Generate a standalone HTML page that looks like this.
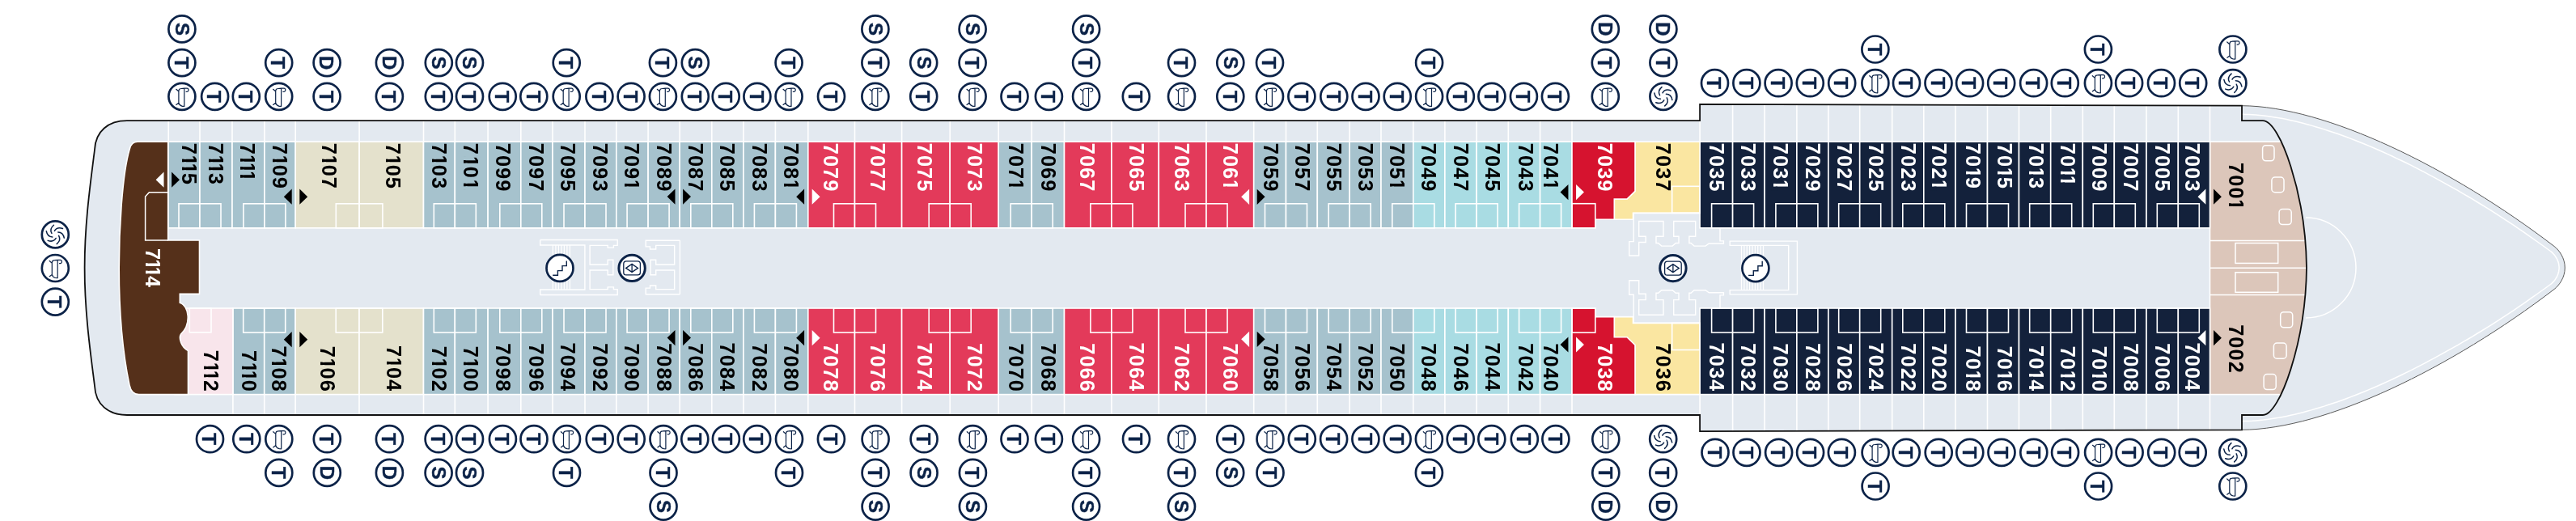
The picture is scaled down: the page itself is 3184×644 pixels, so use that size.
<!DOCTYPE html><html><head><meta charset="utf-8"><title>Deck 7</title>
<style>html,body{margin:0;padding:0;background:#fff;overflow:hidden}svg{display:block;will-change:transform}text{font-family:"Liberation Sans",Arial,sans-serif;font-weight:700}</style></head><body>
<svg width="3184" height="644" viewBox="0 0 3184 644">
<defs><clipPath id="hc"><path d="M157,149.2 H2101.1 V128.8 L2771,130.7 V149.2 H2797 C2818,149.2 2850,240 2851,331 C2850,422 2818,513.0 2797,513.0 H2771 V531.3 L2101.1,533.2 V513.0 H157 C134,513.0 118,500 117,477 C112,437 104.6,387 104.6,331 C104.6,275 112,225 117,185 C118,162 134,149.2 157,149.2 Z"/></clipPath></defs>
<rect width="3184" height="644" fill="#fff"/>
<path d="M2771,130.7 C2874.6,131.2 3029.7,207.1 3157.1,304.5 C3163.4,309.4 3170.3,319.1 3170.3,331 C3170.3,342.9 3163.4,352.6 3157.1,357.5 C3029.7,454.9 2874.6,530.8 2771,531.3 Z" fill="#e3e9f0" stroke="#5a5a5a" stroke-width="1"/>
<path d="M2770.8,141.3 L2775.2,141.4 L2779.5,141.5 L2783.9,141.7 L2788.4,142.1 L2792.9,142.5 L2797.5,142.9 L2802.2,143.5 L2806.9,144.2 L2811.6,144.9 L2816.5,145.7 L2821.3,146.6 L2826.3,147.6 L2831.3,148.7 L2836.3,149.8 L2841.4,151.1 L2846.5,152.3 L2851.7,153.7 L2856.9,155.1 L2862.2,156.7 L2867.5,158.3 L2872.8,159.9 L2878.2,161.7 L2883.6,163.5 L2889.1,165.3 L2894.6,167.3 L2900.1,169.3 L2905.6,171.4 L2911.2,173.5 L2916.8,175.8 L2922.5,178.0 L2928.1,180.4 L2933.8,182.8 L2939.5,185.3 L2945.2,187.8 L2950.9,190.4 L2956.7,193.0 L2962.4,195.8 L2968.2,198.5 L2974.0,201.3 L2979.8,204.2 L2985.6,207.2 L2991.4,210.2 L2997.2,213.2 L3003.1,216.3 L3008.9,219.4 L3014.7,222.6 L3020.6,225.8 L3026.4,229.1 L3032.3,232.3 L3038.2,235.7 L3044.0,239.1 L3049.9,242.5 L3055.7,245.9 L3061.5,249.5 L3067.3,253.0 L3073.2,256.6 L3078.9,260.2 L3084.7,263.9 L3090.5,267.6 L3096.2,271.3 L3102.0,275.1 L3107.7,278.9 L3113.4,282.8 L3119.0,286.7 L3124.6,290.6 L3130.3,294.6 L3135.8,298.5 L3141.4,302.5 L3147.0,306.5 L3152.5,310.5 L3152.9,310.8 L3153.4,311.2 L3153.9,311.6 L3154.4,312.1 L3154.9,312.6 L3155.4,313.1 L3155.9,313.6 L3156.4,314.2 L3156.9,314.7 L3157.4,315.3 L3157.9,316.0 L3158.4,316.6 L3158.8,317.3 L3159.2,318.0 L3159.7,318.7 L3160.1,319.4 L3160.5,320.1 L3160.8,320.9 L3161.2,321.7 L3161.5,322.5 L3161.8,323.3 L3162.0,324.1 L3162.3,324.9 L3162.5,325.7 L3162.7,326.6 L3162.8,327.4 L3162.9,328.3 L3163.0,329.2 L3163.1,330.1 L3163.1,331.9 L3163.0,332.8 L3162.9,333.7 L3162.8,334.6 L3162.7,335.4 L3162.5,336.3 L3162.3,337.1 L3162.0,337.9 L3161.8,338.7 L3161.5,339.5 L3161.2,340.3 L3160.8,341.1 L3160.5,341.9 L3160.1,342.6 L3159.7,343.3 L3159.2,344.0 L3158.8,344.7 L3158.4,345.4 L3157.9,346.0 L3157.4,346.7 L3156.9,347.3 L3156.4,347.8 L3155.9,348.4 L3155.4,348.9 L3154.9,349.4 L3154.4,349.9 L3153.9,350.4 L3153.4,350.8 L3152.9,351.2 L3152.5,351.5 L3147.0,355.5 L3141.4,359.5 L3135.8,363.5 L3130.3,367.4 L3124.6,371.4 L3119.0,375.3 L3113.4,379.2 L3107.7,383.1 L3102.0,386.9 L3096.2,390.7 L3090.5,394.4 L3084.7,398.1 L3078.9,401.8 L3073.2,405.4 L3067.3,409.0 L3061.5,412.5 L3055.7,416.1 L3049.9,419.5 L3044.0,422.9 L3038.2,426.3 L3032.3,429.7 L3026.4,432.9 L3020.6,436.2 L3014.7,439.4 L3008.9,442.6 L3003.1,445.7 L2997.2,448.8 L2991.4,451.8 L2985.6,454.8 L2979.8,457.8 L2974.0,460.7 L2968.2,463.5 L2962.4,466.2 L2956.7,469.0 L2950.9,471.6 L2945.2,474.2 L2939.5,476.7 L2933.8,479.2 L2928.1,481.6 L2922.5,484.0 L2916.8,486.2 L2911.2,488.5 L2905.6,490.6 L2900.1,492.7 L2894.6,494.7 L2889.1,496.7 L2883.6,498.5 L2878.2,500.3 L2872.8,502.1 L2867.5,503.7 L2862.2,505.3 L2856.9,506.9 L2851.7,508.3 L2846.5,509.7 L2841.4,510.9 L2836.3,512.2 L2831.3,513.3 L2826.3,514.4 L2821.3,515.4 L2816.5,516.3 L2811.6,517.1 L2806.9,517.8 L2802.2,518.5 L2797.5,519.1 L2792.9,519.5 L2788.4,519.9 L2783.9,520.3 L2779.5,520.5 L2775.2,520.6 L2770.8,520.7" fill="none" stroke="#fff" stroke-width="1.5"/>
<path d="M2850,269 A62,62 0 0 1 2850,393" fill="none" stroke="#fff" stroke-width="1.5"/>
<path d="M157,149.2 H2101.1 V128.8 L2771,130.7 V149.2 H2797 C2818,149.2 2850,240 2851,331 C2850,422 2818,513.0 2797,513.0 H2771 V531.3 L2101.1,533.2 V513.0 H157 C134,513.0 118,500 117,477 C112,437 104.6,387 104.6,331 C104.6,275 112,225 117,185 C118,162 134,149.2 157,149.2 Z" fill="#e3e9f0"/>
<g clip-path="url(#hc)">
<path d="M208.2,147.2 V175.2 M247,147.2 V175.2 M287,147.2 V175.2 M326.9,147.2 V175.2 M365.2,147.2 V175.2 M444.1,147.2 V175.2 M523.5,147.2 V175.2 M562.3,147.2 V175.2 M603.1,147.2 V175.2 M643.8,147.2 V175.2 M683,147.2 V175.2 M723,147.2 V175.2 M761.8,147.2 V175.2 M801.1,147.2 V175.2 M840.2,147.2 V175.2 M879.8,147.2 V175.2 M918.9,147.2 V175.2 M958.4,147.2 V175.2 M998.8,147.2 V175.2 M1056.5,147.2 V175.2 M1114.6,147.2 V175.2 M1174.2,147.2 V175.2 M1234.2,147.2 V175.2 M1275.2,147.2 V175.2 M1315.5,147.2 V175.2 M1373.9,147.2 V175.2 M1432.3,147.2 V175.2 M1491,147.2 V175.2 M1549.7,147.2 V175.2 M1589.5,147.2 V175.2 M1628.3,147.2 V175.2 M1668.2,147.2 V175.2 M1707,147.2 V175.2 M1746.8,147.2 V175.2 M1785.9,147.2 V175.2 M1825.1,147.2 V175.2 M1864.3,147.2 V175.2 M1903.6,147.2 V175.2 M1943,147.2 V175.2 M2101.1,147.2 V175.2 M2141.6,126.8 V175.2 M2181.1,126.8 V175.2 M2220.9,126.8 V175.2 M2259.9,126.8 V175.2 M2298.7,126.8 V175.2 M2338.7,126.8 V175.2 M2377.8,126.8 V175.2 M2417,126.8 V175.2 M2456.5,126.8 V175.2 M2495.5,126.8 V175.2 M2534.7,126.8 V175.2 M2574.3,126.8 V175.2 M2613.3,126.8 V175.2 M2653,126.8 V175.2 M2692.3,126.8 V175.2 M2731.5,126.8 V175.2 M287.9,487.6 V515 M326.7,487.6 V515 M365.1,487.6 V515 M444,487.6 V515 M523.5,487.6 V515 M562.3,487.6 V515 M603.1,487.6 V515 M643.8,487.6 V515 M683,487.6 V515 M723,487.6 V515 M761.8,487.6 V515 M801.1,487.6 V515 M840.2,487.6 V515 M879.8,487.6 V515 M918.9,487.6 V515 M958.4,487.6 V515 M998.8,487.6 V515 M1056.5,487.6 V515 M1114.6,487.6 V515 M1174.2,487.6 V515 M1234.2,487.6 V515 M1275.2,487.6 V515 M1315.5,487.6 V515 M1373.9,487.6 V515 M1432.3,487.6 V515 M1491,487.6 V515 M1549.7,487.6 V515 M1589.5,487.6 V515 M1628.3,487.6 V515 M1668.2,487.6 V515 M1707,487.6 V515 M1746.8,487.6 V515 M1785.9,487.6 V515 M1825.1,487.6 V515 M1864.3,487.6 V515 M1903.6,487.6 V515 M1943,487.6 V515 M2101.1,487.6 V515 M2141.6,487.6 V535.2 M2181.1,487.6 V535.2 M2220.9,487.6 V535.2 M2259.9,487.6 V535.2 M2298.7,487.6 V535.2 M2338.7,487.6 V535.2 M2377.8,487.6 V535.2 M2417,487.6 V535.2 M2456.5,487.6 V535.2 M2495.5,487.6 V535.2 M2534.7,487.6 V535.2 M2574.3,487.6 V535.2 M2613.3,487.6 V535.2 M2653,487.6 V535.2 M2692.3,487.6 V535.2 M2731.5,487.6 V535.2 M2101.1,149.2 V175.2 M2101.1,487.6 V513" stroke="#fff" stroke-width="1.6" fill="none"/>
<rect x="2731.5" y="175.2" width="160" height="312.4" fill="#dcc6ba" stroke="#fff" stroke-width="1.6"/>
<path d="M2731.5,297.6 H2870" stroke="#fff" stroke-width="1.5"/>
<path d="M2731.5,331.2 H2870" stroke="#fff" stroke-width="1.5"/>
<path d="M2731.5,364.4 H2870" stroke="#fff" stroke-width="1.5"/>
<rect x="2763" y="300.5" width="52.7" height="24.9" fill="none" stroke="#fff" stroke-width="1.5"/>
<rect x="2763" y="336.7" width="52.7" height="24.6" fill="none" stroke="#fff" stroke-width="1.5"/>
<rect x="2796.6" y="179.7" width="14.4" height="19.1" rx="4" fill="none" stroke="#fff" stroke-width="1.5"/>
<rect x="2807.9" y="219" width="15.1" height="18.7" rx="4" fill="none" stroke="#fff" stroke-width="1.5"/>
<rect x="2817.1" y="258.6" width="15.1" height="19" rx="4" fill="none" stroke="#fff" stroke-width="1.5"/>
<rect x="2818.7" y="385.7" width="15" height="19.1" rx="4" fill="none" stroke="#fff" stroke-width="1.5"/>
<rect x="2810.4" y="424.1" width="15.7" height="19.1" rx="4" fill="none" stroke="#fff" stroke-width="1.5"/>
<rect x="2798.1" y="462.5" width="15.1" height="19.1" rx="4" fill="none" stroke="#fff" stroke-width="1.5"/>
<rect x="208.2" y="175.2" width="38.8" height="106.6" fill="#a6c2cd" stroke="#fff" stroke-width="1.6"/>
<rect x="247" y="175.2" width="40" height="106.6" fill="#a6c2cd" stroke="#fff" stroke-width="1.6"/>
<rect x="287" y="175.2" width="39.9" height="106.6" fill="#a6c2cd" stroke="#fff" stroke-width="1.6"/>
<rect x="326.9" y="175.2" width="38.3" height="106.6" fill="#a6c2cd" stroke="#fff" stroke-width="1.6"/>
<rect x="365.2" y="175.2" width="78.9" height="106.6" fill="#e4e1cc" stroke="#fff" stroke-width="1.6"/>
<rect x="444.1" y="175.2" width="79.4" height="106.6" fill="#e4e1cc" stroke="#fff" stroke-width="1.6"/>
<rect x="523.5" y="175.2" width="38.8" height="106.6" fill="#a6c2cd" stroke="#fff" stroke-width="1.6"/>
<rect x="562.3" y="175.2" width="40.8" height="106.6" fill="#a6c2cd" stroke="#fff" stroke-width="1.6"/>
<rect x="603.1" y="175.2" width="40.7" height="106.6" fill="#a6c2cd" stroke="#fff" stroke-width="1.6"/>
<rect x="643.8" y="175.2" width="39.2" height="106.6" fill="#a6c2cd" stroke="#fff" stroke-width="1.6"/>
<rect x="683" y="175.2" width="40" height="106.6" fill="#a6c2cd" stroke="#fff" stroke-width="1.6"/>
<rect x="723" y="175.2" width="38.8" height="106.6" fill="#a6c2cd" stroke="#fff" stroke-width="1.6"/>
<rect x="761.8" y="175.2" width="39.3" height="106.6" fill="#a6c2cd" stroke="#fff" stroke-width="1.6"/>
<rect x="801.1" y="175.2" width="39.1" height="106.6" fill="#a6c2cd" stroke="#fff" stroke-width="1.6"/>
<rect x="840.2" y="175.2" width="39.6" height="106.6" fill="#a6c2cd" stroke="#fff" stroke-width="1.6"/>
<rect x="879.8" y="175.2" width="39.1" height="106.6" fill="#a6c2cd" stroke="#fff" stroke-width="1.6"/>
<rect x="918.9" y="175.2" width="39.5" height="106.6" fill="#a6c2cd" stroke="#fff" stroke-width="1.6"/>
<rect x="958.4" y="175.2" width="40.4" height="106.6" fill="#a6c2cd" stroke="#fff" stroke-width="1.6"/>
<rect x="998.8" y="175.2" width="57.7" height="106.6" fill="#e33a5a" stroke="#fff" stroke-width="1.6"/>
<rect x="1056.5" y="175.2" width="58.1" height="106.6" fill="#e33a5a" stroke="#fff" stroke-width="1.6"/>
<rect x="1114.6" y="175.2" width="59.6" height="106.6" fill="#e33a5a" stroke="#fff" stroke-width="1.6"/>
<rect x="1174.2" y="175.2" width="60" height="106.6" fill="#e33a5a" stroke="#fff" stroke-width="1.6"/>
<rect x="1234.2" y="175.2" width="41" height="106.6" fill="#a6c2cd" stroke="#fff" stroke-width="1.6"/>
<rect x="1275.2" y="175.2" width="40.3" height="106.6" fill="#a6c2cd" stroke="#fff" stroke-width="1.6"/>
<rect x="1315.5" y="175.2" width="58.4" height="106.6" fill="#e33a5a" stroke="#fff" stroke-width="1.6"/>
<rect x="1373.9" y="175.2" width="58.4" height="106.6" fill="#e33a5a" stroke="#fff" stroke-width="1.6"/>
<rect x="1432.3" y="175.2" width="58.7" height="106.6" fill="#e33a5a" stroke="#fff" stroke-width="1.6"/>
<rect x="1491" y="175.2" width="58.7" height="106.6" fill="#e33a5a" stroke="#fff" stroke-width="1.6"/>
<rect x="1549.7" y="175.2" width="39.8" height="106.6" fill="#a6c2cd" stroke="#fff" stroke-width="1.6"/>
<rect x="1589.5" y="175.2" width="38.8" height="106.6" fill="#a6c2cd" stroke="#fff" stroke-width="1.6"/>
<rect x="1628.3" y="175.2" width="39.9" height="106.6" fill="#a6c2cd" stroke="#fff" stroke-width="1.6"/>
<rect x="1668.2" y="175.2" width="38.8" height="106.6" fill="#a6c2cd" stroke="#fff" stroke-width="1.6"/>
<rect x="1707" y="175.2" width="39.8" height="106.6" fill="#a6c2cd" stroke="#fff" stroke-width="1.6"/>
<rect x="1746.8" y="175.2" width="39.1" height="106.6" fill="#a9dce3" stroke="#fff" stroke-width="1.6"/>
<rect x="1785.9" y="175.2" width="39.2" height="106.6" fill="#a9dce3" stroke="#fff" stroke-width="1.6"/>
<rect x="1825.1" y="175.2" width="39.2" height="106.6" fill="#a9dce3" stroke="#fff" stroke-width="1.6"/>
<rect x="1864.3" y="175.2" width="39.3" height="106.6" fill="#a9dce3" stroke="#fff" stroke-width="1.6"/>
<rect x="1903.6" y="175.2" width="39.4" height="106.6" fill="#a9dce3" stroke="#fff" stroke-width="1.6"/>
<rect x="2101.1" y="175.2" width="40.5" height="106.6" fill="#13213b" stroke="#fff" stroke-width="1.6"/>
<rect x="2141.6" y="175.2" width="39.5" height="106.6" fill="#13213b" stroke="#fff" stroke-width="1.6"/>
<rect x="2181.1" y="175.2" width="39.8" height="106.6" fill="#13213b" stroke="#fff" stroke-width="1.6"/>
<rect x="2220.9" y="175.2" width="39" height="106.6" fill="#13213b" stroke="#fff" stroke-width="1.6"/>
<rect x="2259.9" y="175.2" width="38.8" height="106.6" fill="#13213b" stroke="#fff" stroke-width="1.6"/>
<rect x="2298.7" y="175.2" width="40" height="106.6" fill="#13213b" stroke="#fff" stroke-width="1.6"/>
<rect x="2338.7" y="175.2" width="39.1" height="106.6" fill="#13213b" stroke="#fff" stroke-width="1.6"/>
<rect x="2377.8" y="175.2" width="39.2" height="106.6" fill="#13213b" stroke="#fff" stroke-width="1.6"/>
<rect x="2417" y="175.2" width="39.5" height="106.6" fill="#13213b" stroke="#fff" stroke-width="1.6"/>
<rect x="2456.5" y="175.2" width="39" height="106.6" fill="#13213b" stroke="#fff" stroke-width="1.6"/>
<rect x="2495.5" y="175.2" width="39.2" height="106.6" fill="#13213b" stroke="#fff" stroke-width="1.6"/>
<rect x="2534.7" y="175.2" width="39.6" height="106.6" fill="#13213b" stroke="#fff" stroke-width="1.6"/>
<rect x="2574.3" y="175.2" width="39" height="106.6" fill="#13213b" stroke="#fff" stroke-width="1.6"/>
<rect x="2613.3" y="175.2" width="39.7" height="106.6" fill="#13213b" stroke="#fff" stroke-width="1.6"/>
<rect x="2653" y="175.2" width="39.3" height="106.6" fill="#13213b" stroke="#fff" stroke-width="1.6"/>
<rect x="2692.3" y="175.2" width="39.2" height="106.6" fill="#13213b" stroke="#fff" stroke-width="1.6"/>
<rect x="287.9" y="381" width="38.8" height="106.6" fill="#a6c2cd" stroke="#fff" stroke-width="1.6"/>
<rect x="326.7" y="381" width="38.4" height="106.6" fill="#a6c2cd" stroke="#fff" stroke-width="1.6"/>
<rect x="365.1" y="381" width="78.9" height="106.6" fill="#e4e1cc" stroke="#fff" stroke-width="1.6"/>
<rect x="444" y="381" width="79.5" height="106.6" fill="#e4e1cc" stroke="#fff" stroke-width="1.6"/>
<rect x="523.5" y="381" width="38.8" height="106.6" fill="#a6c2cd" stroke="#fff" stroke-width="1.6"/>
<rect x="562.3" y="381" width="40.8" height="106.6" fill="#a6c2cd" stroke="#fff" stroke-width="1.6"/>
<rect x="603.1" y="381" width="40.7" height="106.6" fill="#a6c2cd" stroke="#fff" stroke-width="1.6"/>
<rect x="643.8" y="381" width="39.2" height="106.6" fill="#a6c2cd" stroke="#fff" stroke-width="1.6"/>
<rect x="683" y="381" width="40" height="106.6" fill="#a6c2cd" stroke="#fff" stroke-width="1.6"/>
<rect x="723" y="381" width="38.8" height="106.6" fill="#a6c2cd" stroke="#fff" stroke-width="1.6"/>
<rect x="761.8" y="381" width="39.3" height="106.6" fill="#a6c2cd" stroke="#fff" stroke-width="1.6"/>
<rect x="801.1" y="381" width="39.1" height="106.6" fill="#a6c2cd" stroke="#fff" stroke-width="1.6"/>
<rect x="840.2" y="381" width="39.6" height="106.6" fill="#a6c2cd" stroke="#fff" stroke-width="1.6"/>
<rect x="879.8" y="381" width="39.1" height="106.6" fill="#a6c2cd" stroke="#fff" stroke-width="1.6"/>
<rect x="918.9" y="381" width="39.5" height="106.6" fill="#a6c2cd" stroke="#fff" stroke-width="1.6"/>
<rect x="958.4" y="381" width="40.4" height="106.6" fill="#a6c2cd" stroke="#fff" stroke-width="1.6"/>
<rect x="998.8" y="381" width="57.7" height="106.6" fill="#e33a5a" stroke="#fff" stroke-width="1.6"/>
<rect x="1056.5" y="381" width="58.1" height="106.6" fill="#e33a5a" stroke="#fff" stroke-width="1.6"/>
<rect x="1114.6" y="381" width="59.6" height="106.6" fill="#e33a5a" stroke="#fff" stroke-width="1.6"/>
<rect x="1174.2" y="381" width="60" height="106.6" fill="#e33a5a" stroke="#fff" stroke-width="1.6"/>
<rect x="1234.2" y="381" width="41" height="106.6" fill="#a6c2cd" stroke="#fff" stroke-width="1.6"/>
<rect x="1275.2" y="381" width="40.3" height="106.6" fill="#a6c2cd" stroke="#fff" stroke-width="1.6"/>
<rect x="1315.5" y="381" width="58.4" height="106.6" fill="#e33a5a" stroke="#fff" stroke-width="1.6"/>
<rect x="1373.9" y="381" width="58.4" height="106.6" fill="#e33a5a" stroke="#fff" stroke-width="1.6"/>
<rect x="1432.3" y="381" width="58.7" height="106.6" fill="#e33a5a" stroke="#fff" stroke-width="1.6"/>
<rect x="1491" y="381" width="58.7" height="106.6" fill="#e33a5a" stroke="#fff" stroke-width="1.6"/>
<rect x="1549.7" y="381" width="39.8" height="106.6" fill="#a6c2cd" stroke="#fff" stroke-width="1.6"/>
<rect x="1589.5" y="381" width="38.8" height="106.6" fill="#a6c2cd" stroke="#fff" stroke-width="1.6"/>
<rect x="1628.3" y="381" width="39.9" height="106.6" fill="#a6c2cd" stroke="#fff" stroke-width="1.6"/>
<rect x="1668.2" y="381" width="38.8" height="106.6" fill="#a6c2cd" stroke="#fff" stroke-width="1.6"/>
<rect x="1707" y="381" width="39.8" height="106.6" fill="#a6c2cd" stroke="#fff" stroke-width="1.6"/>
<rect x="1746.8" y="381" width="39.1" height="106.6" fill="#a9dce3" stroke="#fff" stroke-width="1.6"/>
<rect x="1785.9" y="381" width="39.2" height="106.6" fill="#a9dce3" stroke="#fff" stroke-width="1.6"/>
<rect x="1825.1" y="381" width="39.2" height="106.6" fill="#a9dce3" stroke="#fff" stroke-width="1.6"/>
<rect x="1864.3" y="381" width="39.3" height="106.6" fill="#a9dce3" stroke="#fff" stroke-width="1.6"/>
<rect x="1903.6" y="381" width="39.4" height="106.6" fill="#a9dce3" stroke="#fff" stroke-width="1.6"/>
<rect x="2101.1" y="381" width="40.5" height="106.6" fill="#13213b" stroke="#fff" stroke-width="1.6"/>
<rect x="2141.6" y="381" width="39.5" height="106.6" fill="#13213b" stroke="#fff" stroke-width="1.6"/>
<rect x="2181.1" y="381" width="39.8" height="106.6" fill="#13213b" stroke="#fff" stroke-width="1.6"/>
<rect x="2220.9" y="381" width="39" height="106.6" fill="#13213b" stroke="#fff" stroke-width="1.6"/>
<rect x="2259.9" y="381" width="38.8" height="106.6" fill="#13213b" stroke="#fff" stroke-width="1.6"/>
<rect x="2298.7" y="381" width="40" height="106.6" fill="#13213b" stroke="#fff" stroke-width="1.6"/>
<rect x="2338.7" y="381" width="39.1" height="106.6" fill="#13213b" stroke="#fff" stroke-width="1.6"/>
<rect x="2377.8" y="381" width="39.2" height="106.6" fill="#13213b" stroke="#fff" stroke-width="1.6"/>
<rect x="2417" y="381" width="39.5" height="106.6" fill="#13213b" stroke="#fff" stroke-width="1.6"/>
<rect x="2456.5" y="381" width="39" height="106.6" fill="#13213b" stroke="#fff" stroke-width="1.6"/>
<rect x="2495.5" y="381" width="39.2" height="106.6" fill="#13213b" stroke="#fff" stroke-width="1.6"/>
<rect x="2534.7" y="381" width="39.6" height="106.6" fill="#13213b" stroke="#fff" stroke-width="1.6"/>
<rect x="2574.3" y="381" width="39" height="106.6" fill="#13213b" stroke="#fff" stroke-width="1.6"/>
<rect x="2613.3" y="381" width="39.7" height="106.6" fill="#13213b" stroke="#fff" stroke-width="1.6"/>
<rect x="2653" y="381" width="39.3" height="106.6" fill="#13213b" stroke="#fff" stroke-width="1.6"/>
<rect x="2692.3" y="381" width="39.2" height="106.6" fill="#13213b" stroke="#fff" stroke-width="1.6"/>
<path d="M2021,175.2 L2101.1,175.2 L2101.1,263.4 L2018.5,263.4 L2018.5,271.2 L1995.3,271.2 L1995.3,246 L2011,246 L2021,236.3 Z" fill="#fae6a1" stroke="#fff" stroke-width="1.6"/>
<path d="M1943,175.2 L2021,175.2 L2021,236.3 L2011,246 L1995.3,246 L1995.3,271.2 L1971.8,271.2 L1971.8,281.8 L1943,281.8 Z" fill="#d6132f" stroke="#fff" stroke-width="1.6"/>
<rect x="1943" y="251.7" width="28.8" height="30.1" fill="none" stroke="#fff" stroke-width="1.6"/>
<rect x="2066.7" y="230.3" width="34.4" height="33.1" fill="none" stroke="#fff" stroke-width="1.6"/>
<path d="M2021,487.6 L2101.1,487.6 L2101.1,399.4 L2018.5,399.4 L2018.5,391.6 L1995.3,391.6 L1995.3,416.8 L2011,416.8 L2021,426.5 Z" fill="#fae6a1" stroke="#fff" stroke-width="1.6"/>
<path d="M1943,487.6 L2021,487.6 L2021,426.5 L2011,416.8 L1995.3,416.8 L1995.3,391.6 L1971.8,391.6 L1971.8,381 L1943,381 Z" fill="#d6132f" stroke="#fff" stroke-width="1.6"/>
<rect x="1943" y="381" width="28.8" height="30.1" fill="none" stroke="#fff" stroke-width="1.6"/>
<rect x="2066.7" y="399.4" width="34.4" height="33.1" fill="none" stroke="#fff" stroke-width="1.6"/>
<rect x="216" y="381" width="71.9" height="106.6" fill="#f8e5eb" stroke="#fff" stroke-width="1.6"/>
<rect x="234.3" y="381" width="26.7" height="29.8" fill="none" stroke="#fff" stroke-width="1.6"/>
<path d="M170,175.2 H207.7 V297 H246.5 V363.4 H222.3 V374.2 C234,378 236.5,401 223.6,413 C220.5,418 224,429 232.5,433.6 V487.6 H171.5 Q162.5,487.6 160,476 C152.5,440 147.2,395 147.2,331 C147.2,285 151,215 160.3,184 Q162.5,175.2 170,175.2 Z" fill="#55301a" stroke="#fff" stroke-width="1.6"/>
<path d="M207.7,237.8 H184.4 L179.6,243 V297 H207.7" fill="none" stroke="#fff" stroke-width="1.5"/>
<rect x="221" y="251.8" width="52" height="30" fill="none" stroke="#fff" stroke-width="1.6"/>
<rect x="300.9" y="251.8" width="52" height="30" fill="none" stroke="#fff" stroke-width="1.6"/>
<rect x="300.7" y="381" width="52" height="30" fill="none" stroke="#fff" stroke-width="1.6"/>
<rect x="536.3" y="251.8" width="52" height="30" fill="none" stroke="#fff" stroke-width="1.6"/>
<rect x="536.3" y="381" width="52" height="30" fill="none" stroke="#fff" stroke-width="1.6"/>
<rect x="617.8" y="251.8" width="52" height="30" fill="none" stroke="#fff" stroke-width="1.6"/>
<rect x="617.8" y="381" width="52" height="30" fill="none" stroke="#fff" stroke-width="1.6"/>
<rect x="697" y="251.8" width="52" height="30" fill="none" stroke="#fff" stroke-width="1.6"/>
<rect x="697" y="381" width="52" height="30" fill="none" stroke="#fff" stroke-width="1.6"/>
<rect x="775.1" y="251.8" width="52" height="30" fill="none" stroke="#fff" stroke-width="1.6"/>
<rect x="775.1" y="381" width="52" height="30" fill="none" stroke="#fff" stroke-width="1.6"/>
<rect x="853.8" y="251.8" width="52" height="30" fill="none" stroke="#fff" stroke-width="1.6"/>
<rect x="853.8" y="381" width="52" height="30" fill="none" stroke="#fff" stroke-width="1.6"/>
<rect x="932.4" y="251.8" width="52" height="30" fill="none" stroke="#fff" stroke-width="1.6"/>
<rect x="932.4" y="381" width="52" height="30" fill="none" stroke="#fff" stroke-width="1.6"/>
<rect x="1030.5" y="251.8" width="52" height="30" fill="none" stroke="#fff" stroke-width="1.6"/>
<rect x="1030.5" y="381" width="52" height="30" fill="none" stroke="#fff" stroke-width="1.6"/>
<rect x="1148.2" y="251.8" width="52" height="30" fill="none" stroke="#fff" stroke-width="1.6"/>
<rect x="1148.2" y="381" width="52" height="30" fill="none" stroke="#fff" stroke-width="1.6"/>
<rect x="1249.2" y="251.8" width="52" height="30" fill="none" stroke="#fff" stroke-width="1.6"/>
<rect x="1249.2" y="381" width="52" height="30" fill="none" stroke="#fff" stroke-width="1.6"/>
<rect x="1347.9" y="251.8" width="52" height="30" fill="none" stroke="#fff" stroke-width="1.6"/>
<rect x="1347.9" y="381" width="52" height="30" fill="none" stroke="#fff" stroke-width="1.6"/>
<rect x="1465" y="251.8" width="52" height="30" fill="none" stroke="#fff" stroke-width="1.6"/>
<rect x="1465" y="381" width="52" height="30" fill="none" stroke="#fff" stroke-width="1.6"/>
<rect x="1563.5" y="251.8" width="52" height="30" fill="none" stroke="#fff" stroke-width="1.6"/>
<rect x="1563.5" y="381" width="52" height="30" fill="none" stroke="#fff" stroke-width="1.6"/>
<rect x="1642.2" y="251.8" width="52" height="30" fill="none" stroke="#fff" stroke-width="1.6"/>
<rect x="1642.2" y="381" width="52" height="30" fill="none" stroke="#fff" stroke-width="1.6"/>
<rect x="1720.8" y="251.8" width="52" height="30" fill="none" stroke="#fff" stroke-width="1.6"/>
<rect x="1720.8" y="381" width="52" height="30" fill="none" stroke="#fff" stroke-width="1.6"/>
<rect x="1799.1" y="251.8" width="52" height="30" fill="none" stroke="#fff" stroke-width="1.6"/>
<rect x="1799.1" y="381" width="52" height="30" fill="none" stroke="#fff" stroke-width="1.6"/>
<rect x="1877.6" y="251.8" width="52" height="30" fill="none" stroke="#fff" stroke-width="1.6"/>
<rect x="1877.6" y="381" width="52" height="30" fill="none" stroke="#fff" stroke-width="1.6"/>
<rect x="2115.6" y="251.8" width="52" height="30" fill="none" stroke="#fff" stroke-width="1.6"/>
<rect x="2115.6" y="381" width="52" height="30" fill="none" stroke="#fff" stroke-width="1.6"/>
<rect x="2194.9" y="251.8" width="52" height="30" fill="none" stroke="#fff" stroke-width="1.6"/>
<rect x="2194.9" y="381" width="52" height="30" fill="none" stroke="#fff" stroke-width="1.6"/>
<rect x="2272.7" y="251.8" width="52" height="30" fill="none" stroke="#fff" stroke-width="1.6"/>
<rect x="2272.7" y="381" width="52" height="30" fill="none" stroke="#fff" stroke-width="1.6"/>
<rect x="2351.8" y="251.8" width="52" height="30" fill="none" stroke="#fff" stroke-width="1.6"/>
<rect x="2351.8" y="381" width="52" height="30" fill="none" stroke="#fff" stroke-width="1.6"/>
<rect x="2430.5" y="251.8" width="52" height="30" fill="none" stroke="#fff" stroke-width="1.6"/>
<rect x="2430.5" y="381" width="52" height="30" fill="none" stroke="#fff" stroke-width="1.6"/>
<rect x="2508.7" y="251.8" width="52" height="30" fill="none" stroke="#fff" stroke-width="1.6"/>
<rect x="2508.7" y="381" width="52" height="30" fill="none" stroke="#fff" stroke-width="1.6"/>
<rect x="2587.3" y="251.8" width="52" height="30" fill="none" stroke="#fff" stroke-width="1.6"/>
<rect x="2587.3" y="381" width="52" height="30" fill="none" stroke="#fff" stroke-width="1.6"/>
<rect x="2666.3" y="251.8" width="52" height="30" fill="none" stroke="#fff" stroke-width="1.6"/>
<rect x="2666.3" y="381" width="52" height="30" fill="none" stroke="#fff" stroke-width="1.6"/>
<rect x="415.3" y="251.8" width="57.6" height="30" fill="none" stroke="#fff" stroke-width="1.6"/>
<rect x="415.2" y="381" width="57.6" height="30" fill="none" stroke="#fff" stroke-width="1.6"/>
</g>
<path d="M2101.1,263.4 L2019.2,263.4 L2019.2,298.6 L2013.8,298.6 L2013.8,316 L2025.7,316 L2025.7,299.5 L2034.2,299.5 L2034.2,292.2 L2025.7,292.2 L2025.7,273.5 L2056,273.5 L2056,292.2 L2047,292.2 L2047,300.5 L2049.6,300.5 L2053.7,304.1 L2067.2,304.1 L2071.3,300.5 L2075,300.5 L2075,292.2 L2068.7,292.2 L2068.7,273.5 L2095.7,273.5 L2095.7,292.2 L2087.9,292.2 L2087.9,300.5 L2090,300.5 L2094.1,304.1 L2108.1,304.1 L2112.3,301 L2130.4,301 L2130.4,297.9 L2126,297.9 L2126,281.8" fill="none" stroke="#fff" stroke-width="1.4" stroke-linejoin="miter"/>
<path d="M2101.1,399.4 L2019.2,399.4 L2019.2,364.2 L2013.8,364.2 L2013.8,346.8 L2025.7,346.8 L2025.7,363.3 L2034.2,363.3 L2034.2,370.6 L2025.7,370.6 L2025.7,389.3 L2056,389.3 L2056,370.6 L2047,370.6 L2047,362.3 L2049.6,362.3 L2053.7,358.7 L2067.2,358.7 L2071.3,362.3 L2075,362.3 L2075,370.6 L2068.7,370.6 L2068.7,389.3 L2095.7,389.3 L2095.7,370.6 L2087.9,370.6 L2087.9,362.3 L2090,362.3 L2094.1,358.7 L2108.1,358.7 L2112.3,361.8 L2130.4,361.8 L2130.4,364.9 L2126,364.9 L2126,381" fill="none" stroke="#fff" stroke-width="1.4" stroke-linejoin="miter"/>
<path d="M2138.2,298.1 H2221.4 V363.9 H2138.2 V358.6 H2210.7 V303.4 H2138.2 Z" fill="none" stroke="#fff" stroke-width="1.4" stroke-linejoin="miter"/>
<path d="M2152.5,303.4 V358.6 M2155.88,303.4 V358.6 M2159.25,303.4 V358.6 M2162.62,303.4 V358.6 M2166,303.4 V358.6 M2169.38,303.4 V358.6 M2172.75,303.4 V358.6 M2176.12,303.4 V358.6 M2179.5,303.4 V358.6" stroke="#fff" stroke-width="1.25" fill="none"/>
<path d="M667.7,296.5 L763.2,296.5 L763.2,303.4 L758.4,303.4 L758.4,306.1 L751.2,306.1 L751.2,303.4 L729.1,303.4 L729.1,327 L751.2,327 L751.2,321.2 L757.9,321.2 L757.9,339.8 L751.2,339.8 L751.2,334 L729.1,334 L729.1,357.6 L751.2,357.6 L751.2,354.9 L758.4,354.9 L758.4,357.6 L763.2,357.6 L763.2,364.5 L667.7,364.5" fill="none" stroke="#fff" stroke-width="1.4" stroke-linejoin="miter"/>
<path d="M667.7,296.5 L667.7,303 L722.9,303 L722.9,358 L667.7,358 L667.7,364.5" fill="none" stroke="#fff" stroke-width="1.4" stroke-linejoin="miter"/>
<path d="M683.4,303 V358 M686.9,303 V358 M690.4,303 V358 M693.9,303 V358 M697.4,303 V358 M700.9,303 V358 M704.4,303 V358" stroke="#fff" stroke-width="1.25" fill="none"/>
<path d="M840.4,297.2 L798.2,297.2 L798.2,304.9 L803.5,304.9 L803.5,308 L810.7,308 L810.7,303.4 L833.7,303.4 L833.7,327 L810.7,327 L810.7,321.2 L804,321.2 L804,339.8 L810.7,339.8 L810.7,334 L833.7,334 L833.7,357.6 L810.7,357.6 L810.7,353 L803.5,353 L803.5,356.1 L798.2,356.1 L798.2,363.8 L840.4,363.8" fill="none" stroke="#fff" stroke-width="1.4" stroke-linejoin="miter"/>
<path d="M840.4,297.2 V363.8" fill="none" stroke="#fff" stroke-width="1.4" stroke-linejoin="miter"/>
<g clip-path="url(#hc)">
</g>
<path d="M157,149.2 H2101.1 V128.8 L2771,130.7 V149.2 H2797 C2818,149.2 2850,240 2851,331 C2850,422 2818,513.0 2797,513.0 H2771 V531.3 L2101.1,533.2 V513.0 H157 C134,513.0 118,500 117,477 C112,437 104.6,387 104.6,331 C104.6,275 112,225 117,185 C118,162 134,149.2 157,149.2 Z" fill="none" stroke="#111" stroke-width="1.8" stroke-linejoin="miter"/>
<path d="M360.7,233.6 L350.8,243.2 L360.7,252.8 Z" fill="#000"/>
<path d="M370.3,233.6 L380.2,243.2 L370.3,252.8 Z" fill="#000"/>
<path d="M360.7,410.1 L350.8,419.7 L360.7,429.3 Z" fill="#000"/>
<path d="M370.3,410.1 L380.2,419.7 L370.3,429.3 Z" fill="#000"/>
<path d="M834.5,233.5 L824.6,243.1 L834.5,252.7 Z" fill="#000"/>
<path d="M844.1,233.5 L854,243.1 L844.1,252.7 Z" fill="#000"/>
<path d="M834.5,408 L824.6,417.6 L834.5,427.2 Z" fill="#000"/>
<path d="M844.1,408 L854,417.6 L844.1,427.2 Z" fill="#000"/>
<path d="M994.1,233.6 L984.2,243.2 L994.1,252.8 Z" fill="#000"/>
<path d="M1003.7,233.6 L1013.6,243.2 L1003.7,252.8 Z" fill="#fff"/>
<path d="M994.1,408.1 L984.2,417.7 L994.1,427.3 Z" fill="#000"/>
<path d="M1003.7,408.1 L1013.6,417.7 L1003.7,427.3 Z" fill="#fff"/>
<path d="M1544.1,233.7 L1534.2,243.3 L1544.1,252.9 Z" fill="#fff"/>
<path d="M1553.7,233.7 L1563.6,243.3 L1553.7,252.9 Z" fill="#000"/>
<path d="M1544.1,409.7 L1534.2,419.3 L1544.1,428.9 Z" fill="#fff"/>
<path d="M1553.7,409.7 L1563.6,419.3 L1553.7,428.9 Z" fill="#000"/>
<path d="M1938.45,228 L1928.55,237.6 L1938.45,247.2 Z" fill="#000"/>
<path d="M1948.05,228 L1957.95,237.6 L1948.05,247.2 Z" fill="#fff"/>
<path d="M1938.45,416.4 L1928.55,426 L1938.45,435.6 Z" fill="#000"/>
<path d="M1948.05,416.4 L1957.95,426 L1948.05,435.6 Z" fill="#fff"/>
<path d="M2726.4,233.6 L2716.5,243.2 L2726.4,252.8 Z" fill="#fff"/>
<path d="M2736,233.6 L2745.9,243.2 L2736,252.8 Z" fill="#000"/>
<path d="M2726.4,408.1 L2716.5,417.7 L2726.4,427.3 Z" fill="#fff"/>
<path d="M2736,408.1 L2745.9,417.7 L2736,427.3 Z" fill="#000"/>
<path d="M202.5,212.6 L192.6,222.2 L202.5,231.8 Z" fill="#fff"/>
<path d="M212.1,212.6 L222,222.2 L212.1,231.8 Z" fill="#000"/>
<text transform="rotate(90)" x="176.81 190.79 200.79 213.66" y="-224.76" font-size="25.4" fill="#000">7115</text>
<rect x="222.73" y="191.67" width="7.11" height="4.94" fill="#a6c2cd"/>
<rect x="222.73" y="200.27" width="7.11" height="4.61" fill="#a6c2cd"/>
<rect x="229.59" y="191.8" width="15.75" height="1.6" fill="#a6c2cd"/>
<rect x="222.73" y="201.67" width="7.11" height="4.94" fill="#a6c2cd"/>
<rect x="222.73" y="210.27" width="7.11" height="4.61" fill="#a6c2cd"/>
<rect x="229.59" y="201.8" width="15.75" height="1.6" fill="#a6c2cd"/>
<text transform="rotate(90)" x="176.81 190.79 200.79 213.86" y="-257.66" font-size="25.4" fill="#000">7113</text>
<rect x="255.63" y="191.67" width="7.11" height="4.94" fill="#a6c2cd"/>
<rect x="255.63" y="200.27" width="7.11" height="4.61" fill="#a6c2cd"/>
<rect x="262.49" y="191.8" width="15.75" height="1.6" fill="#a6c2cd"/>
<rect x="255.63" y="201.67" width="7.11" height="4.94" fill="#a6c2cd"/>
<rect x="255.63" y="210.27" width="7.11" height="4.61" fill="#a6c2cd"/>
<rect x="262.49" y="201.8" width="15.75" height="1.6" fill="#a6c2cd"/>
<text transform="rotate(90)" x="176.81 190.19 200.19 210.29" y="-296.86" font-size="25.4" fill="#000">7111</text>
<rect x="294.83" y="191.07" width="7.11" height="4.94" fill="#a6c2cd"/>
<rect x="294.83" y="199.67" width="7.11" height="4.61" fill="#a6c2cd"/>
<rect x="301.69" y="191.2" width="15.75" height="1.6" fill="#a6c2cd"/>
<rect x="294.83" y="201.07" width="7.11" height="4.94" fill="#a6c2cd"/>
<rect x="294.83" y="209.67" width="7.11" height="4.61" fill="#a6c2cd"/>
<rect x="301.69" y="201.2" width="15.75" height="1.6" fill="#a6c2cd"/>
<rect x="294.83" y="211.17" width="7.11" height="4.94" fill="#a6c2cd"/>
<rect x="294.83" y="219.77" width="7.11" height="4.61" fill="#a6c2cd"/>
<rect x="301.69" y="211.3" width="15.75" height="1.6" fill="#a6c2cd"/>
<text transform="rotate(90)" x="176.81 190.79 203.71 218.87" y="-336.76" font-size="25.4" fill="#000">7109</text>
<rect x="334.73" y="191.67" width="7.11" height="4.94" fill="#a6c2cd"/>
<rect x="334.73" y="200.27" width="7.11" height="4.61" fill="#a6c2cd"/>
<rect x="341.59" y="191.8" width="15.75" height="1.6" fill="#a6c2cd"/>
<text transform="rotate(90)" x="176.81 190.79 203.71 218.86" y="-397.86" font-size="25.4" fill="#000">7107</text>
<rect x="395.83" y="191.67" width="7.11" height="4.94" fill="#e4e1cc"/>
<rect x="395.83" y="200.27" width="7.11" height="4.61" fill="#e4e1cc"/>
<rect x="402.69" y="191.8" width="15.75" height="1.6" fill="#e4e1cc"/>
<text transform="rotate(90)" x="176.81 190.79 203.71 218.81" y="-476.56" font-size="25.4" fill="#000">7105</text>
<rect x="474.53" y="191.67" width="7.11" height="4.94" fill="#e4e1cc"/>
<rect x="474.53" y="200.27" width="7.11" height="4.61" fill="#e4e1cc"/>
<rect x="481.39" y="191.8" width="15.75" height="1.6" fill="#e4e1cc"/>
<text transform="rotate(90)" x="176.81 190.79 203.71 219.01" y="-533.56" font-size="25.4" fill="#000">7103</text>
<rect x="531.53" y="191.67" width="7.11" height="4.94" fill="#a6c2cd"/>
<rect x="531.53" y="200.27" width="7.11" height="4.61" fill="#a6c2cd"/>
<rect x="538.39" y="191.8" width="15.75" height="1.6" fill="#a6c2cd"/>
<text transform="rotate(90)" x="176.81 192.19 205.71 220.79" y="-572.56" font-size="25.4" fill="#000">7101</text>
<rect x="570.53" y="193.07" width="7.11" height="4.94" fill="#a6c2cd"/>
<rect x="570.53" y="201.67" width="7.11" height="4.61" fill="#a6c2cd"/>
<rect x="577.39" y="193.2" width="15.75" height="1.6" fill="#a6c2cd"/>
<rect x="570.53" y="221.67" width="7.11" height="4.94" fill="#a6c2cd"/>
<rect x="570.53" y="230.27" width="7.11" height="4.61" fill="#a6c2cd"/>
<rect x="577.39" y="221.8" width="15.75" height="1.6" fill="#a6c2cd"/>
<text transform="rotate(90)" x="176.81 191.96 207.12 222.27" y="-612.86" font-size="25.4" fill="#000">7099</text>
<text transform="rotate(90)" x="176.81 191.96 207.12 222.26" y="-653.86" font-size="25.4" fill="#000">7097</text>
<text transform="rotate(90)" x="176.81 191.96 207.12 222.21" y="-692.96" font-size="25.4" fill="#000">7095</text>
<text transform="rotate(90)" x="176.81 191.96 207.12 222.41" y="-732.86" font-size="25.4" fill="#000">7093</text>
<text transform="rotate(90)" x="176.81 191.96 207.12 221.09" y="-771.76" font-size="25.4" fill="#000">7091</text>
<rect x="769.73" y="221.97" width="7.11" height="4.94" fill="#a6c2cd"/>
<rect x="769.73" y="230.57" width="7.11" height="4.61" fill="#a6c2cd"/>
<rect x="776.59" y="222.1" width="15.75" height="1.6" fill="#a6c2cd"/>
<text transform="rotate(90)" x="176.81 191.96 207.08 222.27" y="-811.86" font-size="25.4" fill="#000">7089</text>
<text transform="rotate(90)" x="176.81 191.96 207.08 222.26" y="-851.06" font-size="25.4" fill="#000">7087</text>
<text transform="rotate(90)" x="176.81 191.96 207.08 222.21" y="-889.86" font-size="25.4" fill="#000">7085</text>
<text transform="rotate(90)" x="176.81 191.96 207.08 222.41" y="-929.66" font-size="25.4" fill="#000">7083</text>
<text transform="rotate(90)" x="176.81 191.96 207.08 221.09" y="-969.06" font-size="25.4" fill="#000">7081</text>
<rect x="967.03" y="221.97" width="7.11" height="4.94" fill="#a6c2cd"/>
<rect x="967.03" y="230.57" width="7.11" height="4.61" fill="#a6c2cd"/>
<rect x="973.89" y="222.1" width="15.75" height="1.6" fill="#a6c2cd"/>
<text transform="rotate(90)" x="176.81 191.96 207.11 222.27" y="-1017.76" font-size="25.4" fill="#fff">7079</text>
<text transform="rotate(90)" x="176.81 191.96 207.11 222.26" y="-1075.56" font-size="25.4" fill="#fff">7077</text>
<text transform="rotate(90)" x="176.81 191.96 207.11 222.21" y="-1133.76" font-size="25.4" fill="#fff">7075</text>
<text transform="rotate(90)" x="176.81 191.96 207.11 222.41" y="-1195.86" font-size="25.4" fill="#fff">7073</text>
<text transform="rotate(90)" x="176.81 191.96 207.11 221.09" y="-1247.16" font-size="25.4" fill="#000">7071</text>
<rect x="1245.13" y="221.97" width="7.11" height="4.94" fill="#a6c2cd"/>
<rect x="1245.13" y="230.57" width="7.11" height="4.61" fill="#a6c2cd"/>
<rect x="1251.99" y="222.1" width="15.75" height="1.6" fill="#a6c2cd"/>
<text transform="rotate(90)" x="176.81 191.96 207.08 222.27" y="-1286.76" font-size="25.4" fill="#000">7069</text>
<text transform="rotate(90)" x="176.81 191.96 207.08 222.26" y="-1334.76" font-size="25.4" fill="#fff">7067</text>
<text transform="rotate(90)" x="176.81 191.96 207.08 222.21" y="-1395.76" font-size="25.4" fill="#fff">7065</text>
<text transform="rotate(90)" x="176.81 191.96 207.08 222.41" y="-1452.46" font-size="25.4" fill="#fff">7063</text>
<text transform="rotate(90)" x="176.81 191.96 207.08 221.09" y="-1511.86" font-size="25.4" fill="#fff">7061</text>
<rect x="1509.83" y="221.97" width="7.11" height="4.94" fill="#e33a5a"/>
<rect x="1509.83" y="230.57" width="7.11" height="4.61" fill="#e33a5a"/>
<rect x="1516.69" y="222.1" width="15.75" height="1.6" fill="#e33a5a"/>
<text transform="rotate(90)" x="176.81 191.96 207.06 222.27" y="-1561.76" font-size="25.4" fill="#000">7059</text>
<text transform="rotate(90)" x="176.81 191.96 207.06 222.26" y="-1600.66" font-size="25.4" fill="#000">7057</text>
<text transform="rotate(90)" x="176.81 191.96 207.06 222.21" y="-1639.66" font-size="25.4" fill="#000">7055</text>
<text transform="rotate(90)" x="176.81 191.96 207.06 222.41" y="-1679.06" font-size="25.4" fill="#000">7053</text>
<text transform="rotate(90)" x="176.81 191.96 207.06 221.09" y="-1717.96" font-size="25.4" fill="#000">7051</text>
<rect x="1715.93" y="221.97" width="7.11" height="4.94" fill="#a6c2cd"/>
<rect x="1715.93" y="230.57" width="7.11" height="4.61" fill="#a6c2cd"/>
<rect x="1722.79" y="222.1" width="15.75" height="1.6" fill="#a6c2cd"/>
<text transform="rotate(90)" x="176.81 191.96 206.97 222.27" y="-1756.76" font-size="25.4" fill="#000">7049</text>
<text transform="rotate(90)" x="176.81 191.96 206.97 222.26" y="-1796.96" font-size="25.4" fill="#000">7047</text>
<text transform="rotate(90)" x="176.81 191.96 206.97 222.21" y="-1836.26" font-size="25.4" fill="#000">7045</text>
<text transform="rotate(90)" x="176.81 191.96 206.97 222.41" y="-1876.66" font-size="25.4" fill="#000">7043</text>
<text transform="rotate(90)" x="176.81 191.96 206.97 221.09" y="-1907.56" font-size="25.4" fill="#000">7041</text>
<rect x="1905.53" y="221.97" width="7.11" height="4.94" fill="#a9dce3"/>
<rect x="1905.53" y="230.57" width="7.11" height="4.61" fill="#a9dce3"/>
<rect x="1912.39" y="222.1" width="15.75" height="1.6" fill="#a9dce3"/>
<text transform="rotate(90)" x="176.81 191.96 207.26 222.27" y="-1975.16" font-size="25.4" fill="#fff">7039</text>
<text transform="rotate(90)" x="176.81 191.96 207.26 222.26" y="-2046.56" font-size="25.4" fill="#000">7037</text>
<text transform="rotate(90)" x="176.81 191.96 207.26 222.21" y="-2112.56" font-size="25.4" fill="#fff">7035</text>
<text transform="rotate(90)" x="176.81 191.96 207.26 222.41" y="-2151.86" font-size="25.4" fill="#fff">7033</text>
<text transform="rotate(90)" x="176.81 191.96 207.26 221.09" y="-2191.96" font-size="25.4" fill="#fff">7031</text>
<rect x="2189.93" y="221.97" width="7.11" height="4.94" fill="#13213b"/>
<rect x="2189.93" y="230.57" width="7.11" height="4.61" fill="#13213b"/>
<rect x="2196.79" y="222.1" width="15.75" height="1.6" fill="#13213b"/>
<text transform="rotate(90)" x="176.81 191.96 207.16 222.27" y="-2231.86" font-size="25.4" fill="#fff">7029</text>
<text transform="rotate(90)" x="176.81 191.96 207.16 222.26" y="-2270.86" font-size="25.4" fill="#fff">7027</text>
<text transform="rotate(90)" x="176.81 191.96 207.16 222.21" y="-2310.06" font-size="25.4" fill="#fff">7025</text>
<text transform="rotate(90)" x="176.81 191.96 207.16 222.41" y="-2349.76" font-size="25.4" fill="#fff">7023</text>
<text transform="rotate(90)" x="176.81 191.96 207.16 221.09" y="-2388.46" font-size="25.4" fill="#fff">7021</text>
<rect x="2386.43" y="221.97" width="7.11" height="4.94" fill="#13213b"/>
<rect x="2386.43" y="230.57" width="7.11" height="4.61" fill="#13213b"/>
<rect x="2393.29" y="222.1" width="15.75" height="1.6" fill="#13213b"/>
<text transform="rotate(90)" x="176.81 191.96 205.94 218.87" y="-2430.06" font-size="25.4" fill="#fff">7019</text>
<rect x="2428.03" y="206.82" width="7.11" height="4.94" fill="#13213b"/>
<rect x="2428.03" y="215.42" width="7.11" height="4.61" fill="#13213b"/>
<rect x="2434.89" y="206.95" width="15.75" height="1.6" fill="#13213b"/>
<text transform="rotate(90)" x="176.81 191.96 205.94 218.81" y="-2468.86" font-size="25.4" fill="#fff">7015</text>
<rect x="2466.83" y="206.82" width="7.11" height="4.94" fill="#13213b"/>
<rect x="2466.83" y="215.42" width="7.11" height="4.61" fill="#13213b"/>
<rect x="2473.69" y="206.95" width="15.75" height="1.6" fill="#13213b"/>
<text transform="rotate(90)" x="176.81 191.96 205.94 219.01" y="-2508.06" font-size="25.4" fill="#fff">7013</text>
<rect x="2506.03" y="206.82" width="7.11" height="4.94" fill="#13213b"/>
<rect x="2506.03" y="215.42" width="7.11" height="4.61" fill="#13213b"/>
<rect x="2512.89" y="206.95" width="15.75" height="1.6" fill="#13213b"/>
<text transform="rotate(90)" x="176.81 191.96 205.94 215.94" y="-2546.96" font-size="25.4" fill="#fff">7011</text>
<rect x="2544.93" y="206.82" width="7.11" height="4.94" fill="#13213b"/>
<rect x="2544.93" y="215.42" width="7.11" height="4.61" fill="#13213b"/>
<rect x="2551.79" y="206.95" width="15.75" height="1.6" fill="#13213b"/>
<rect x="2544.93" y="216.82" width="7.11" height="4.94" fill="#13213b"/>
<rect x="2544.93" y="225.42" width="7.11" height="4.61" fill="#13213b"/>
<rect x="2551.79" y="216.95" width="15.75" height="1.6" fill="#13213b"/>
<text transform="rotate(90)" x="176.81 191.96 207.11 222.27" y="-2585.76" font-size="25.4" fill="#fff">7009</text>
<text transform="rotate(90)" x="176.81 191.96 207.11 222.26" y="-2624.56" font-size="25.4" fill="#fff">7007</text>
<text transform="rotate(90)" x="176.81 191.96 207.11 222.21" y="-2663.56" font-size="25.4" fill="#fff">7005</text>
<text transform="rotate(90)" x="176.81 191.96 207.11 222.41" y="-2700.76" font-size="25.4" fill="#fff">7003</text>
<text transform="rotate(90)" x="432.87 446.85 456.85 469.82" y="-252.26" font-size="25.4" fill="#000">7112</text>
<rect x="250.23" y="447.73" width="7.11" height="4.94" fill="#f8e5eb"/>
<rect x="250.23" y="456.33" width="7.11" height="4.61" fill="#f8e5eb"/>
<rect x="257.09" y="447.86" width="15.75" height="1.6" fill="#f8e5eb"/>
<rect x="250.23" y="457.73" width="7.11" height="4.94" fill="#f8e5eb"/>
<rect x="250.23" y="466.33" width="7.11" height="4.61" fill="#f8e5eb"/>
<rect x="257.09" y="457.86" width="15.75" height="1.6" fill="#f8e5eb"/>
<text transform="rotate(90)" x="432.94 446.92 456.92 469.84" y="-298.76" font-size="25.4" fill="#000">7110</text>
<rect x="296.73" y="447.81" width="7.11" height="4.94" fill="#a6c2cd"/>
<rect x="296.73" y="456.41" width="7.11" height="4.61" fill="#a6c2cd"/>
<rect x="303.59" y="447.94" width="15.75" height="1.6" fill="#a6c2cd"/>
<rect x="296.73" y="457.81" width="7.11" height="4.94" fill="#a6c2cd"/>
<rect x="296.73" y="466.41" width="7.11" height="4.61" fill="#a6c2cd"/>
<rect x="303.59" y="457.94" width="15.75" height="1.6" fill="#a6c2cd"/>
<text transform="rotate(90)" x="427.57 441.54 454.47 469.59" y="-336.06" font-size="25.4" fill="#000">7108</text>
<rect x="334.03" y="442.43" width="7.11" height="4.94" fill="#a6c2cd"/>
<rect x="334.03" y="451.03" width="7.11" height="4.61" fill="#a6c2cd"/>
<rect x="340.89" y="442.56" width="15.75" height="1.6" fill="#a6c2cd"/>
<text transform="rotate(90)" x="427.69 441.67 454.59 469.72" y="-396.16" font-size="25.4" fill="#000">7106</text>
<rect x="394.13" y="442.56" width="7.11" height="4.94" fill="#e4e1cc"/>
<rect x="394.13" y="451.16" width="7.11" height="4.61" fill="#e4e1cc"/>
<rect x="400.99" y="442.69" width="15.75" height="1.6" fill="#e4e1cc"/>
<text transform="rotate(90)" x="427.02 441 453.92 468.93" y="-477.66" font-size="25.4" fill="#000">7104</text>
<rect x="475.63" y="441.89" width="7.11" height="4.94" fill="#e4e1cc"/>
<rect x="475.63" y="450.48" width="7.11" height="4.61" fill="#e4e1cc"/>
<rect x="482.49" y="442.01" width="15.75" height="1.6" fill="#e4e1cc"/>
<text transform="rotate(90)" x="427.72 441.7 454.62 469.82" y="-533.56" font-size="25.4" fill="#000">7102</text>
<rect x="531.53" y="442.58" width="7.11" height="4.94" fill="#a6c2cd"/>
<rect x="531.53" y="451.18" width="7.11" height="4.61" fill="#a6c2cd"/>
<rect x="538.39" y="442.71" width="15.75" height="1.6" fill="#a6c2cd"/>
<text transform="rotate(90)" x="427.79 441.77 454.69 469.84" y="-572.56" font-size="25.4" fill="#000">7100</text>
<rect x="570.53" y="442.66" width="7.11" height="4.94" fill="#a6c2cd"/>
<rect x="570.53" y="451.26" width="7.11" height="4.61" fill="#a6c2cd"/>
<rect x="577.39" y="442.79" width="15.75" height="1.6" fill="#a6c2cd"/>
<text transform="rotate(90)" x="424.17 439.32 454.48 469.59" y="-612.86" font-size="25.4" fill="#000">7098</text>
<text transform="rotate(90)" x="424.29 439.44 454.61 469.72" y="-653.86" font-size="25.4" fill="#000">7096</text>
<text transform="rotate(90)" x="423.62 438.77 453.93 468.93" y="-692.96" font-size="25.4" fill="#000">7094</text>
<text transform="rotate(90)" x="424.32 439.47 454.63 469.82" y="-732.86" font-size="25.4" fill="#000">7092</text>
<text transform="rotate(90)" x="424.39 439.54 454.71 469.84" y="-771.76" font-size="25.4" fill="#000">7090</text>
<text transform="rotate(90)" x="424.17 439.32 454.44 469.59" y="-811.86" font-size="25.4" fill="#000">7088</text>
<text transform="rotate(90)" x="424.29 439.44 454.57 469.72" y="-851.06" font-size="25.4" fill="#000">7086</text>
<text transform="rotate(90)" x="423.62 438.77 453.89 468.93" y="-889.86" font-size="25.4" fill="#000">7084</text>
<text transform="rotate(90)" x="424.32 439.47 454.59 469.82" y="-929.66" font-size="25.4" fill="#000">7082</text>
<text transform="rotate(90)" x="424.39 439.54 454.67 469.84" y="-969.06" font-size="25.4" fill="#000">7080</text>
<text transform="rotate(90)" x="424.17 439.32 454.47 469.59" y="-1017.76" font-size="25.4" fill="#fff">7078</text>
<text transform="rotate(90)" x="424.29 439.44 454.59 469.72" y="-1075.56" font-size="25.4" fill="#fff">7076</text>
<text transform="rotate(90)" x="423.62 438.77 453.92 468.93" y="-1133.76" font-size="25.4" fill="#fff">7074</text>
<text transform="rotate(90)" x="424.32 439.47 454.62 469.82" y="-1195.86" font-size="25.4" fill="#fff">7072</text>
<text transform="rotate(90)" x="424.39 439.54 454.69 469.84" y="-1247.16" font-size="25.4" fill="#000">7070</text>
<text transform="rotate(90)" x="424.17 439.32 454.44 469.59" y="-1286.76" font-size="25.4" fill="#000">7068</text>
<text transform="rotate(90)" x="424.29 439.44 454.57 469.72" y="-1334.76" font-size="25.4" fill="#fff">7066</text>
<text transform="rotate(90)" x="423.62 438.77 453.89 468.93" y="-1395.76" font-size="25.4" fill="#fff">7064</text>
<text transform="rotate(90)" x="424.32 439.47 454.59 469.82" y="-1452.46" font-size="25.4" fill="#fff">7062</text>
<text transform="rotate(90)" x="424.39 439.54 454.67 469.84" y="-1511.86" font-size="25.4" fill="#fff">7060</text>
<text transform="rotate(90)" x="424.17 439.32 454.42 469.59" y="-1561.76" font-size="25.4" fill="#000">7058</text>
<text transform="rotate(90)" x="424.29 439.44 454.54 469.72" y="-1600.66" font-size="25.4" fill="#000">7056</text>
<text transform="rotate(90)" x="423.62 438.77 453.87 468.93" y="-1639.66" font-size="25.4" fill="#000">7054</text>
<text transform="rotate(90)" x="424.32 439.47 454.57 469.82" y="-1679.06" font-size="25.4" fill="#000">7052</text>
<text transform="rotate(90)" x="424.39 439.54 454.64 469.84" y="-1717.96" font-size="25.4" fill="#000">7050</text>
<text transform="rotate(90)" x="424.17 439.32 454.33 469.59" y="-1756.76" font-size="25.4" fill="#000">7048</text>
<text transform="rotate(90)" x="424.29 439.44 454.45 469.72" y="-1796.96" font-size="25.4" fill="#000">7046</text>
<text transform="rotate(90)" x="423.62 438.77 453.78 468.93" y="-1836.26" font-size="25.4" fill="#000">7044</text>
<text transform="rotate(90)" x="424.32 439.47 454.48 469.82" y="-1876.66" font-size="25.4" fill="#000">7042</text>
<text transform="rotate(90)" x="424.39 439.54 454.55 469.84" y="-1907.56" font-size="25.4" fill="#000">7040</text>
<text transform="rotate(90)" x="424.17 439.32 454.62 469.59" y="-1975.16" font-size="25.4" fill="#fff">7038</text>
<text transform="rotate(90)" x="424.29 439.44 454.75 469.72" y="-2046.56" font-size="25.4" fill="#000">7036</text>
<text transform="rotate(90)" x="423.62 438.77 454.07 468.93" y="-2112.56" font-size="25.4" fill="#fff">7034</text>
<text transform="rotate(90)" x="424.32 439.47 454.77 469.82" y="-2151.86" font-size="25.4" fill="#fff">7032</text>
<text transform="rotate(90)" x="424.39 439.54 454.85 469.84" y="-2191.96" font-size="25.4" fill="#fff">7030</text>
<text transform="rotate(90)" x="424.17 439.32 454.52 469.59" y="-2231.86" font-size="25.4" fill="#fff">7028</text>
<text transform="rotate(90)" x="424.29 439.44 454.64 469.72" y="-2270.86" font-size="25.4" fill="#fff">7026</text>
<text transform="rotate(90)" x="423.62 438.77 453.97 468.93" y="-2310.06" font-size="25.4" fill="#fff">7024</text>
<text transform="rotate(90)" x="424.32 439.47 454.67 469.82" y="-2349.76" font-size="25.4" fill="#fff">7022</text>
<text transform="rotate(90)" x="424.39 439.54 454.75 469.84" y="-2388.46" font-size="25.4" fill="#fff">7020</text>
<text transform="rotate(90)" x="427.57 442.72 456.69 469.59" y="-2430.06" font-size="25.4" fill="#fff">7018</text>
<rect x="2428.03" y="457.58" width="7.11" height="4.94" fill="#13213b"/>
<rect x="2428.03" y="466.18" width="7.11" height="4.61" fill="#13213b"/>
<rect x="2434.89" y="457.71" width="15.75" height="1.6" fill="#13213b"/>
<text transform="rotate(90)" x="427.69 442.84 456.82 469.72" y="-2468.86" font-size="25.4" fill="#fff">7016</text>
<rect x="2466.83" y="457.71" width="7.11" height="4.94" fill="#13213b"/>
<rect x="2466.83" y="466.31" width="7.11" height="4.61" fill="#13213b"/>
<rect x="2473.69" y="457.84" width="15.75" height="1.6" fill="#13213b"/>
<text transform="rotate(90)" x="427.02 442.17 456.15 468.93" y="-2508.06" font-size="25.4" fill="#fff">7014</text>
<rect x="2506.03" y="457.04" width="7.11" height="4.94" fill="#13213b"/>
<rect x="2506.03" y="465.63" width="7.11" height="4.61" fill="#13213b"/>
<rect x="2512.89" y="457.16" width="15.75" height="1.6" fill="#13213b"/>
<text transform="rotate(90)" x="427.72 442.87 456.85 469.82" y="-2546.96" font-size="25.4" fill="#fff">7012</text>
<rect x="2544.93" y="457.73" width="7.11" height="4.94" fill="#13213b"/>
<rect x="2544.93" y="466.33" width="7.11" height="4.61" fill="#13213b"/>
<rect x="2551.79" y="457.86" width="15.75" height="1.6" fill="#13213b"/>
<text transform="rotate(90)" x="427.79 442.94 456.92 469.84" y="-2585.76" font-size="25.4" fill="#fff">7010</text>
<rect x="2583.73" y="457.81" width="7.11" height="4.94" fill="#13213b"/>
<rect x="2583.73" y="466.41" width="7.11" height="4.61" fill="#13213b"/>
<rect x="2590.59" y="457.94" width="15.75" height="1.6" fill="#13213b"/>
<text transform="rotate(90)" x="424.17 439.32 454.47 469.59" y="-2624.56" font-size="25.4" fill="#fff">7008</text>
<text transform="rotate(90)" x="424.29 439.44 454.59 469.72" y="-2663.56" font-size="25.4" fill="#fff">7006</text>
<text transform="rotate(90)" x="423.62 438.77 453.92 468.93" y="-2700.76" font-size="25.4" fill="#fff">7004</text>
<text transform="rotate(90)" x="307.01 319.39 328.79 340.87" y="-179.76" font-size="25.4" fill="#fff">7114</text>
<rect x="177.73" y="320.27" width="7.11" height="4.94" fill="#55301a"/>
<rect x="177.73" y="328.87" width="7.11" height="4.61" fill="#55301a"/>
<rect x="184.59" y="320.4" width="15.75" height="1.6" fill="#55301a"/>
<rect x="177.73" y="329.67" width="7.11" height="4.94" fill="#55301a"/>
<rect x="177.73" y="338.27" width="7.11" height="4.61" fill="#55301a"/>
<rect x="184.59" y="329.8" width="15.75" height="1.6" fill="#55301a"/>
<text transform="rotate(90)" x="201.11 216.26 231.41 245.39" y="-2754.96" font-size="25.4" fill="#000">7001</text>
<rect x="2752.93" y="246.27" width="7.11" height="4.94" fill="#dcc6ba"/>
<rect x="2752.93" y="254.87" width="7.11" height="4.61" fill="#dcc6ba"/>
<rect x="2759.79" y="246.4" width="15.75" height="1.6" fill="#dcc6ba"/>
<text transform="rotate(90)" x="401.22 416.37 431.52 446.72" y="-2754.96" font-size="25.4" fill="#000">7002</text>
<circle cx="224.9" cy="119.3" r="16.5" fill="#fff" stroke="#0c2348" stroke-width="2.7"/>
<path transform="translate(224.9,119.3)" d="M2.9,-10.1 V12.1 M-4,-6.3 C-4,-8.5 -2.6,-9.8 -0.9,-9.8 L2.9,-10.1 H6.4 C8.2,-10 8.6,-8 7.6,-6.6 C7,-5.8 6,-5.7 5.2,-5.9 M-4,-6.3 V7.9 C-3.4,10.4 -1.6,11.6 0.4,12 L2.9,12.1 M-7.1,-9 L-4,-6.3 M-7.1,10.2 L-4,7.9" fill="none" stroke="#0c2348" stroke-width="1.2" stroke-linecap="round"/>
<circle cx="224.9" cy="77.6" r="16.5" fill="#fff" stroke="#0c2348" stroke-width="2.7"/>
<text transform="translate(224.9,77.6) rotate(90)" x="0" y="9.26" font-size="24.0" text-anchor="middle" fill="#0c2348" stroke="#0c2348" stroke-width="0.45">T</text>
<circle cx="224.9" cy="35.9" r="16.5" fill="#fff" stroke="#0c2348" stroke-width="2.7"/>
<text transform="translate(224.9,35.9) rotate(90)" x="0" y="8.06" font-size="24.0" text-anchor="middle" fill="#0c2348" stroke="#0c2348" stroke-width="0.45">S</text>
<circle cx="265.6" cy="119.3" r="16.5" fill="#fff" stroke="#0c2348" stroke-width="2.7"/>
<text transform="translate(265.6,119.3) rotate(90)" x="0" y="9.26" font-size="24.0" text-anchor="middle" fill="#0c2348" stroke="#0c2348" stroke-width="0.45">T</text>
<circle cx="304.3" cy="119.3" r="16.5" fill="#fff" stroke="#0c2348" stroke-width="2.7"/>
<text transform="translate(304.3,119.3) rotate(90)" x="0" y="9.26" font-size="24.0" text-anchor="middle" fill="#0c2348" stroke="#0c2348" stroke-width="0.45">T</text>
<circle cx="344.7" cy="119.3" r="16.5" fill="#fff" stroke="#0c2348" stroke-width="2.7"/>
<path transform="translate(344.7,119.3)" d="M2.9,-10.1 V12.1 M-4,-6.3 C-4,-8.5 -2.6,-9.8 -0.9,-9.8 L2.9,-10.1 H6.4 C8.2,-10 8.6,-8 7.6,-6.6 C7,-5.8 6,-5.7 5.2,-5.9 M-4,-6.3 V7.9 C-3.4,10.4 -1.6,11.6 0.4,12 L2.9,12.1 M-7.1,-9 L-4,-6.3 M-7.1,10.2 L-4,7.9" fill="none" stroke="#0c2348" stroke-width="1.2" stroke-linecap="round"/>
<circle cx="344.7" cy="77.6" r="16.5" fill="#fff" stroke="#0c2348" stroke-width="2.7"/>
<text transform="translate(344.7,77.6) rotate(90)" x="0" y="9.26" font-size="24.0" text-anchor="middle" fill="#0c2348" stroke="#0c2348" stroke-width="0.45">T</text>
<circle cx="404.1" cy="119.3" r="16.5" fill="#fff" stroke="#0c2348" stroke-width="2.7"/>
<text transform="translate(404.1,119.3) rotate(90)" x="0" y="9.26" font-size="24.0" text-anchor="middle" fill="#0c2348" stroke="#0c2348" stroke-width="0.45">T</text>
<circle cx="404.1" cy="77.6" r="16.5" fill="#fff" stroke="#0c2348" stroke-width="2.7"/>
<text transform="translate(404.1,77.6) rotate(90)" x="0" y="8.66" font-size="24.0" text-anchor="middle" fill="#0c2348" stroke="#0c2348" stroke-width="0.45">D</text>
<circle cx="481.4" cy="119.3" r="16.5" fill="#fff" stroke="#0c2348" stroke-width="2.7"/>
<text transform="translate(481.4,119.3) rotate(90)" x="0" y="9.26" font-size="24.0" text-anchor="middle" fill="#0c2348" stroke="#0c2348" stroke-width="0.45">T</text>
<circle cx="481.4" cy="77.6" r="16.5" fill="#fff" stroke="#0c2348" stroke-width="2.7"/>
<text transform="translate(481.4,77.6) rotate(90)" x="0" y="8.66" font-size="24.0" text-anchor="middle" fill="#0c2348" stroke="#0c2348" stroke-width="0.45">D</text>
<circle cx="542.3" cy="119.3" r="16.5" fill="#fff" stroke="#0c2348" stroke-width="2.7"/>
<text transform="translate(542.3,119.3) rotate(90)" x="0" y="9.26" font-size="24.0" text-anchor="middle" fill="#0c2348" stroke="#0c2348" stroke-width="0.45">T</text>
<circle cx="542.3" cy="77.6" r="16.5" fill="#fff" stroke="#0c2348" stroke-width="2.7"/>
<text transform="translate(542.3,77.6) rotate(90)" x="0" y="8.06" font-size="24.0" text-anchor="middle" fill="#0c2348" stroke="#0c2348" stroke-width="0.45">S</text>
<circle cx="580.5" cy="119.3" r="16.5" fill="#fff" stroke="#0c2348" stroke-width="2.7"/>
<text transform="translate(580.5,119.3) rotate(90)" x="0" y="9.26" font-size="24.0" text-anchor="middle" fill="#0c2348" stroke="#0c2348" stroke-width="0.45">T</text>
<circle cx="580.5" cy="77.6" r="16.5" fill="#fff" stroke="#0c2348" stroke-width="2.7"/>
<text transform="translate(580.5,77.6) rotate(90)" x="0" y="8.06" font-size="24.0" text-anchor="middle" fill="#0c2348" stroke="#0c2348" stroke-width="0.45">S</text>
<circle cx="621.2" cy="119.3" r="16.5" fill="#fff" stroke="#0c2348" stroke-width="2.7"/>
<text transform="translate(621.2,119.3) rotate(90)" x="0" y="9.26" font-size="24.0" text-anchor="middle" fill="#0c2348" stroke="#0c2348" stroke-width="0.45">T</text>
<circle cx="659.8" cy="119.3" r="16.5" fill="#fff" stroke="#0c2348" stroke-width="2.7"/>
<text transform="translate(659.8,119.3) rotate(90)" x="0" y="9.26" font-size="24.0" text-anchor="middle" fill="#0c2348" stroke="#0c2348" stroke-width="0.45">T</text>
<circle cx="700.2" cy="119.3" r="16.5" fill="#fff" stroke="#0c2348" stroke-width="2.7"/>
<path transform="translate(700.2,119.3)" d="M2.9,-10.1 V12.1 M-4,-6.3 C-4,-8.5 -2.6,-9.8 -0.9,-9.8 L2.9,-10.1 H6.4 C8.2,-10 8.6,-8 7.6,-6.6 C7,-5.8 6,-5.7 5.2,-5.9 M-4,-6.3 V7.9 C-3.4,10.4 -1.6,11.6 0.4,12 L2.9,12.1 M-7.1,-9 L-4,-6.3 M-7.1,10.2 L-4,7.9" fill="none" stroke="#0c2348" stroke-width="1.2" stroke-linecap="round"/>
<circle cx="700.2" cy="77.6" r="16.5" fill="#fff" stroke="#0c2348" stroke-width="2.7"/>
<text transform="translate(700.2,77.6) rotate(90)" x="0" y="9.26" font-size="24.0" text-anchor="middle" fill="#0c2348" stroke="#0c2348" stroke-width="0.45">T</text>
<circle cx="740.9" cy="119.3" r="16.5" fill="#fff" stroke="#0c2348" stroke-width="2.7"/>
<text transform="translate(740.9,119.3) rotate(90)" x="0" y="9.26" font-size="24.0" text-anchor="middle" fill="#0c2348" stroke="#0c2348" stroke-width="0.45">T</text>
<circle cx="780.1" cy="119.3" r="16.5" fill="#fff" stroke="#0c2348" stroke-width="2.7"/>
<text transform="translate(780.1,119.3) rotate(90)" x="0" y="9.26" font-size="24.0" text-anchor="middle" fill="#0c2348" stroke="#0c2348" stroke-width="0.45">T</text>
<circle cx="819.4" cy="119.3" r="16.5" fill="#fff" stroke="#0c2348" stroke-width="2.7"/>
<path transform="translate(819.4,119.3)" d="M2.9,-10.1 V12.1 M-4,-6.3 C-4,-8.5 -2.6,-9.8 -0.9,-9.8 L2.9,-10.1 H6.4 C8.2,-10 8.6,-8 7.6,-6.6 C7,-5.8 6,-5.7 5.2,-5.9 M-4,-6.3 V7.9 C-3.4,10.4 -1.6,11.6 0.4,12 L2.9,12.1 M-7.1,-9 L-4,-6.3 M-7.1,10.2 L-4,7.9" fill="none" stroke="#0c2348" stroke-width="1.2" stroke-linecap="round"/>
<circle cx="819.4" cy="77.6" r="16.5" fill="#fff" stroke="#0c2348" stroke-width="2.7"/>
<text transform="translate(819.4,77.6) rotate(90)" x="0" y="9.26" font-size="24.0" text-anchor="middle" fill="#0c2348" stroke="#0c2348" stroke-width="0.45">T</text>
<circle cx="859.3" cy="119.3" r="16.5" fill="#fff" stroke="#0c2348" stroke-width="2.7"/>
<text transform="translate(859.3,119.3) rotate(90)" x="0" y="9.26" font-size="24.0" text-anchor="middle" fill="#0c2348" stroke="#0c2348" stroke-width="0.45">T</text>
<circle cx="859.3" cy="77.6" r="16.5" fill="#fff" stroke="#0c2348" stroke-width="2.7"/>
<text transform="translate(859.3,77.6) rotate(90)" x="0" y="8.06" font-size="24.0" text-anchor="middle" fill="#0c2348" stroke="#0c2348" stroke-width="0.45">S</text>
<circle cx="897.2" cy="119.3" r="16.5" fill="#fff" stroke="#0c2348" stroke-width="2.7"/>
<text transform="translate(897.2,119.3) rotate(90)" x="0" y="9.26" font-size="24.0" text-anchor="middle" fill="#0c2348" stroke="#0c2348" stroke-width="0.45">T</text>
<circle cx="935.9" cy="119.3" r="16.5" fill="#fff" stroke="#0c2348" stroke-width="2.7"/>
<text transform="translate(935.9,119.3) rotate(90)" x="0" y="9.26" font-size="24.0" text-anchor="middle" fill="#0c2348" stroke="#0c2348" stroke-width="0.45">T</text>
<circle cx="975.1" cy="119.3" r="16.5" fill="#fff" stroke="#0c2348" stroke-width="2.7"/>
<path transform="translate(975.1,119.3)" d="M2.9,-10.1 V12.1 M-4,-6.3 C-4,-8.5 -2.6,-9.8 -0.9,-9.8 L2.9,-10.1 H6.4 C8.2,-10 8.6,-8 7.6,-6.6 C7,-5.8 6,-5.7 5.2,-5.9 M-4,-6.3 V7.9 C-3.4,10.4 -1.6,11.6 0.4,12 L2.9,12.1 M-7.1,-9 L-4,-6.3 M-7.1,10.2 L-4,7.9" fill="none" stroke="#0c2348" stroke-width="1.2" stroke-linecap="round"/>
<circle cx="975.1" cy="77.6" r="16.5" fill="#fff" stroke="#0c2348" stroke-width="2.7"/>
<text transform="translate(975.1,77.6) rotate(90)" x="0" y="9.26" font-size="24.0" text-anchor="middle" fill="#0c2348" stroke="#0c2348" stroke-width="0.45">T</text>
<circle cx="1027.5" cy="119.3" r="16.5" fill="#fff" stroke="#0c2348" stroke-width="2.7"/>
<text transform="translate(1027.5,119.3) rotate(90)" x="0" y="9.26" font-size="24.0" text-anchor="middle" fill="#0c2348" stroke="#0c2348" stroke-width="0.45">T</text>
<circle cx="1081.9" cy="119.3" r="16.5" fill="#fff" stroke="#0c2348" stroke-width="2.7"/>
<path transform="translate(1081.9,119.3)" d="M2.9,-10.1 V12.1 M-4,-6.3 C-4,-8.5 -2.6,-9.8 -0.9,-9.8 L2.9,-10.1 H6.4 C8.2,-10 8.6,-8 7.6,-6.6 C7,-5.8 6,-5.7 5.2,-5.9 M-4,-6.3 V7.9 C-3.4,10.4 -1.6,11.6 0.4,12 L2.9,12.1 M-7.1,-9 L-4,-6.3 M-7.1,10.2 L-4,7.9" fill="none" stroke="#0c2348" stroke-width="1.2" stroke-linecap="round"/>
<circle cx="1081.9" cy="77.6" r="16.5" fill="#fff" stroke="#0c2348" stroke-width="2.7"/>
<text transform="translate(1081.9,77.6) rotate(90)" x="0" y="9.26" font-size="24.0" text-anchor="middle" fill="#0c2348" stroke="#0c2348" stroke-width="0.45">T</text>
<circle cx="1081.9" cy="35.9" r="16.5" fill="#fff" stroke="#0c2348" stroke-width="2.7"/>
<text transform="translate(1081.9,35.9) rotate(90)" x="0" y="8.06" font-size="24.0" text-anchor="middle" fill="#0c2348" stroke="#0c2348" stroke-width="0.45">S</text>
<circle cx="1141.7" cy="119.3" r="16.5" fill="#fff" stroke="#0c2348" stroke-width="2.7"/>
<text transform="translate(1141.7,119.3) rotate(90)" x="0" y="9.26" font-size="24.0" text-anchor="middle" fill="#0c2348" stroke="#0c2348" stroke-width="0.45">T</text>
<circle cx="1141.7" cy="77.6" r="16.5" fill="#fff" stroke="#0c2348" stroke-width="2.7"/>
<text transform="translate(1141.7,77.6) rotate(90)" x="0" y="8.06" font-size="24.0" text-anchor="middle" fill="#0c2348" stroke="#0c2348" stroke-width="0.45">S</text>
<circle cx="1202.1" cy="119.3" r="16.5" fill="#fff" stroke="#0c2348" stroke-width="2.7"/>
<path transform="translate(1202.1,119.3)" d="M2.9,-10.1 V12.1 M-4,-6.3 C-4,-8.5 -2.6,-9.8 -0.9,-9.8 L2.9,-10.1 H6.4 C8.2,-10 8.6,-8 7.6,-6.6 C7,-5.8 6,-5.7 5.2,-5.9 M-4,-6.3 V7.9 C-3.4,10.4 -1.6,11.6 0.4,12 L2.9,12.1 M-7.1,-9 L-4,-6.3 M-7.1,10.2 L-4,7.9" fill="none" stroke="#0c2348" stroke-width="1.2" stroke-linecap="round"/>
<circle cx="1202.1" cy="77.6" r="16.5" fill="#fff" stroke="#0c2348" stroke-width="2.7"/>
<text transform="translate(1202.1,77.6) rotate(90)" x="0" y="9.26" font-size="24.0" text-anchor="middle" fill="#0c2348" stroke="#0c2348" stroke-width="0.45">T</text>
<circle cx="1202.1" cy="35.9" r="16.5" fill="#fff" stroke="#0c2348" stroke-width="2.7"/>
<text transform="translate(1202.1,35.9) rotate(90)" x="0" y="8.06" font-size="24.0" text-anchor="middle" fill="#0c2348" stroke="#0c2348" stroke-width="0.45">S</text>
<circle cx="1254" cy="119.3" r="16.5" fill="#fff" stroke="#0c2348" stroke-width="2.7"/>
<text transform="translate(1254,119.3) rotate(90)" x="0" y="9.26" font-size="24.0" text-anchor="middle" fill="#0c2348" stroke="#0c2348" stroke-width="0.45">T</text>
<circle cx="1296.4" cy="119.3" r="16.5" fill="#fff" stroke="#0c2348" stroke-width="2.7"/>
<text transform="translate(1296.4,119.3) rotate(90)" x="0" y="9.26" font-size="24.0" text-anchor="middle" fill="#0c2348" stroke="#0c2348" stroke-width="0.45">T</text>
<circle cx="1342.6" cy="119.3" r="16.5" fill="#fff" stroke="#0c2348" stroke-width="2.7"/>
<path transform="translate(1342.6,119.3)" d="M2.9,-10.1 V12.1 M-4,-6.3 C-4,-8.5 -2.6,-9.8 -0.9,-9.8 L2.9,-10.1 H6.4 C8.2,-10 8.6,-8 7.6,-6.6 C7,-5.8 6,-5.7 5.2,-5.9 M-4,-6.3 V7.9 C-3.4,10.4 -1.6,11.6 0.4,12 L2.9,12.1 M-7.1,-9 L-4,-6.3 M-7.1,10.2 L-4,7.9" fill="none" stroke="#0c2348" stroke-width="1.2" stroke-linecap="round"/>
<circle cx="1342.6" cy="77.6" r="16.5" fill="#fff" stroke="#0c2348" stroke-width="2.7"/>
<text transform="translate(1342.6,77.6) rotate(90)" x="0" y="9.26" font-size="24.0" text-anchor="middle" fill="#0c2348" stroke="#0c2348" stroke-width="0.45">T</text>
<circle cx="1342.6" cy="35.9" r="16.5" fill="#fff" stroke="#0c2348" stroke-width="2.7"/>
<text transform="translate(1342.6,35.9) rotate(90)" x="0" y="8.06" font-size="24.0" text-anchor="middle" fill="#0c2348" stroke="#0c2348" stroke-width="0.45">S</text>
<circle cx="1404.3" cy="119.3" r="16.5" fill="#fff" stroke="#0c2348" stroke-width="2.7"/>
<text transform="translate(1404.3,119.3) rotate(90)" x="0" y="9.26" font-size="24.0" text-anchor="middle" fill="#0c2348" stroke="#0c2348" stroke-width="0.45">T</text>
<circle cx="1460.5" cy="119.3" r="16.5" fill="#fff" stroke="#0c2348" stroke-width="2.7"/>
<path transform="translate(1460.5,119.3)" d="M2.9,-10.1 V12.1 M-4,-6.3 C-4,-8.5 -2.6,-9.8 -0.9,-9.8 L2.9,-10.1 H6.4 C8.2,-10 8.6,-8 7.6,-6.6 C7,-5.8 6,-5.7 5.2,-5.9 M-4,-6.3 V7.9 C-3.4,10.4 -1.6,11.6 0.4,12 L2.9,12.1 M-7.1,-9 L-4,-6.3 M-7.1,10.2 L-4,7.9" fill="none" stroke="#0c2348" stroke-width="1.2" stroke-linecap="round"/>
<circle cx="1460.5" cy="77.6" r="16.5" fill="#fff" stroke="#0c2348" stroke-width="2.7"/>
<text transform="translate(1460.5,77.6) rotate(90)" x="0" y="9.26" font-size="24.0" text-anchor="middle" fill="#0c2348" stroke="#0c2348" stroke-width="0.45">T</text>
<circle cx="1520.8" cy="119.3" r="16.5" fill="#fff" stroke="#0c2348" stroke-width="2.7"/>
<text transform="translate(1520.8,119.3) rotate(90)" x="0" y="9.26" font-size="24.0" text-anchor="middle" fill="#0c2348" stroke="#0c2348" stroke-width="0.45">T</text>
<circle cx="1520.8" cy="77.6" r="16.5" fill="#fff" stroke="#0c2348" stroke-width="2.7"/>
<text transform="translate(1520.8,77.6) rotate(90)" x="0" y="8.06" font-size="24.0" text-anchor="middle" fill="#0c2348" stroke="#0c2348" stroke-width="0.45">S</text>
<circle cx="1569.5" cy="119.3" r="16.5" fill="#fff" stroke="#0c2348" stroke-width="2.7"/>
<path transform="translate(1569.5,119.3)" d="M2.9,-10.1 V12.1 M-4,-6.3 C-4,-8.5 -2.6,-9.8 -0.9,-9.8 L2.9,-10.1 H6.4 C8.2,-10 8.6,-8 7.6,-6.6 C7,-5.8 6,-5.7 5.2,-5.9 M-4,-6.3 V7.9 C-3.4,10.4 -1.6,11.6 0.4,12 L2.9,12.1 M-7.1,-9 L-4,-6.3 M-7.1,10.2 L-4,7.9" fill="none" stroke="#0c2348" stroke-width="1.2" stroke-linecap="round"/>
<circle cx="1569.5" cy="77.6" r="16.5" fill="#fff" stroke="#0c2348" stroke-width="2.7"/>
<text transform="translate(1569.5,77.6) rotate(90)" x="0" y="9.26" font-size="24.0" text-anchor="middle" fill="#0c2348" stroke="#0c2348" stroke-width="0.45">T</text>
<circle cx="1608.9" cy="119.3" r="16.5" fill="#fff" stroke="#0c2348" stroke-width="2.7"/>
<text transform="translate(1608.9,119.3) rotate(90)" x="0" y="9.26" font-size="24.0" text-anchor="middle" fill="#0c2348" stroke="#0c2348" stroke-width="0.45">T</text>
<circle cx="1648.8" cy="119.3" r="16.5" fill="#fff" stroke="#0c2348" stroke-width="2.7"/>
<text transform="translate(1648.8,119.3) rotate(90)" x="0" y="9.26" font-size="24.0" text-anchor="middle" fill="#0c2348" stroke="#0c2348" stroke-width="0.45">T</text>
<circle cx="1688" cy="119.3" r="16.5" fill="#fff" stroke="#0c2348" stroke-width="2.7"/>
<text transform="translate(1688,119.3) rotate(90)" x="0" y="9.26" font-size="24.0" text-anchor="middle" fill="#0c2348" stroke="#0c2348" stroke-width="0.45">T</text>
<circle cx="1727.2" cy="119.3" r="16.5" fill="#fff" stroke="#0c2348" stroke-width="2.7"/>
<text transform="translate(1727.2,119.3) rotate(90)" x="0" y="9.26" font-size="24.0" text-anchor="middle" fill="#0c2348" stroke="#0c2348" stroke-width="0.45">T</text>
<circle cx="1766.6" cy="119.3" r="16.5" fill="#fff" stroke="#0c2348" stroke-width="2.7"/>
<path transform="translate(1766.6,119.3)" d="M2.9,-10.1 V12.1 M-4,-6.3 C-4,-8.5 -2.6,-9.8 -0.9,-9.8 L2.9,-10.1 H6.4 C8.2,-10 8.6,-8 7.6,-6.6 C7,-5.8 6,-5.7 5.2,-5.9 M-4,-6.3 V7.9 C-3.4,10.4 -1.6,11.6 0.4,12 L2.9,12.1 M-7.1,-9 L-4,-6.3 M-7.1,10.2 L-4,7.9" fill="none" stroke="#0c2348" stroke-width="1.2" stroke-linecap="round"/>
<circle cx="1766.6" cy="77.6" r="16.5" fill="#fff" stroke="#0c2348" stroke-width="2.7"/>
<text transform="translate(1766.6,77.6) rotate(90)" x="0" y="9.26" font-size="24.0" text-anchor="middle" fill="#0c2348" stroke="#0c2348" stroke-width="0.45">T</text>
<circle cx="1805.3" cy="119.3" r="16.5" fill="#fff" stroke="#0c2348" stroke-width="2.7"/>
<text transform="translate(1805.3,119.3) rotate(90)" x="0" y="9.26" font-size="24.0" text-anchor="middle" fill="#0c2348" stroke="#0c2348" stroke-width="0.45">T</text>
<circle cx="1843.9" cy="119.3" r="16.5" fill="#fff" stroke="#0c2348" stroke-width="2.7"/>
<text transform="translate(1843.9,119.3) rotate(90)" x="0" y="9.26" font-size="24.0" text-anchor="middle" fill="#0c2348" stroke="#0c2348" stroke-width="0.45">T</text>
<circle cx="1883.4" cy="119.3" r="16.5" fill="#fff" stroke="#0c2348" stroke-width="2.7"/>
<text transform="translate(1883.4,119.3) rotate(90)" x="0" y="9.26" font-size="24.0" text-anchor="middle" fill="#0c2348" stroke="#0c2348" stroke-width="0.45">T</text>
<circle cx="1922.4" cy="119.3" r="16.5" fill="#fff" stroke="#0c2348" stroke-width="2.7"/>
<text transform="translate(1922.4,119.3) rotate(90)" x="0" y="9.26" font-size="24.0" text-anchor="middle" fill="#0c2348" stroke="#0c2348" stroke-width="0.45">T</text>
<circle cx="1984.3" cy="119.3" r="16.5" fill="#fff" stroke="#0c2348" stroke-width="2.7"/>
<path transform="translate(1984.3,119.3)" d="M2.9,-10.1 V12.1 M-4,-6.3 C-4,-8.5 -2.6,-9.8 -0.9,-9.8 L2.9,-10.1 H6.4 C8.2,-10 8.6,-8 7.6,-6.6 C7,-5.8 6,-5.7 5.2,-5.9 M-4,-6.3 V7.9 C-3.4,10.4 -1.6,11.6 0.4,12 L2.9,12.1 M-7.1,-9 L-4,-6.3 M-7.1,10.2 L-4,7.9" fill="none" stroke="#0c2348" stroke-width="1.2" stroke-linecap="round"/>
<circle cx="1984.3" cy="77.6" r="16.5" fill="#fff" stroke="#0c2348" stroke-width="2.7"/>
<text transform="translate(1984.3,77.6) rotate(90)" x="0" y="9.26" font-size="24.0" text-anchor="middle" fill="#0c2348" stroke="#0c2348" stroke-width="0.45">T</text>
<circle cx="1984.3" cy="35.9" r="16.5" fill="#fff" stroke="#0c2348" stroke-width="2.7"/>
<text transform="translate(1984.3,35.9) rotate(90)" x="0" y="8.66" font-size="24.0" text-anchor="middle" fill="#0c2348" stroke="#0c2348" stroke-width="0.45">D</text>
<circle cx="2055.9" cy="119.3" r="16.5" fill="#fff" stroke="#0c2348" stroke-width="2.7"/>
<path transform="translate(2055.9,119.3)" d="M-1.85,-11.65 Q-7.46,-6.96 -4.35,-1.5 M9.17,-7.43 Q2.29,-9.94 -0.88,-4.52 M11.02,4.23 Q9.75,-2.98 3.47,-3.02 M1.85,11.65 Q7.46,6.96 4.35,1.5 M-9.17,7.43 Q-2.29,9.94 0.88,4.52 M-11.02,-4.23 Q-9.75,2.98 -3.47,3.02" fill="none" stroke="#0c2348" stroke-width="1.5" stroke-linecap="round"/>
<circle cx="2055.9" cy="77.6" r="16.5" fill="#fff" stroke="#0c2348" stroke-width="2.7"/>
<text transform="translate(2055.9,77.6) rotate(90)" x="0" y="9.26" font-size="24.0" text-anchor="middle" fill="#0c2348" stroke="#0c2348" stroke-width="0.45">T</text>
<circle cx="2055.9" cy="35.9" r="16.5" fill="#fff" stroke="#0c2348" stroke-width="2.7"/>
<text transform="translate(2055.9,35.9) rotate(90)" x="0" y="8.66" font-size="24.0" text-anchor="middle" fill="#0c2348" stroke="#0c2348" stroke-width="0.45">D</text>
<circle cx="2119.5" cy="102.7" r="16.5" fill="#fff" stroke="#0c2348" stroke-width="2.7"/>
<text transform="translate(2119.5,102.7) rotate(90)" x="0" y="9.26" font-size="24.0" text-anchor="middle" fill="#0c2348" stroke="#0c2348" stroke-width="0.45">T</text>
<circle cx="2158.9" cy="102.7" r="16.5" fill="#fff" stroke="#0c2348" stroke-width="2.7"/>
<text transform="translate(2158.9,102.7) rotate(90)" x="0" y="9.26" font-size="24.0" text-anchor="middle" fill="#0c2348" stroke="#0c2348" stroke-width="0.45">T</text>
<circle cx="2198.1" cy="102.7" r="16.5" fill="#fff" stroke="#0c2348" stroke-width="2.7"/>
<text transform="translate(2198.1,102.7) rotate(90)" x="0" y="9.26" font-size="24.0" text-anchor="middle" fill="#0c2348" stroke="#0c2348" stroke-width="0.45">T</text>
<circle cx="2237.3" cy="102.7" r="16.5" fill="#fff" stroke="#0c2348" stroke-width="2.7"/>
<text transform="translate(2237.3,102.7) rotate(90)" x="0" y="9.26" font-size="24.0" text-anchor="middle" fill="#0c2348" stroke="#0c2348" stroke-width="0.45">T</text>
<circle cx="2276.7" cy="102.7" r="16.5" fill="#fff" stroke="#0c2348" stroke-width="2.7"/>
<text transform="translate(2276.7,102.7) rotate(90)" x="0" y="9.26" font-size="24.0" text-anchor="middle" fill="#0c2348" stroke="#0c2348" stroke-width="0.45">T</text>
<circle cx="2317.9" cy="102.7" r="16.5" fill="#fff" stroke="#0c2348" stroke-width="2.7"/>
<path transform="translate(2317.9,102.7)" d="M2.9,-10.1 V12.1 M-4,-6.3 C-4,-8.5 -2.6,-9.8 -0.9,-9.8 L2.9,-10.1 H6.4 C8.2,-10 8.6,-8 7.6,-6.6 C7,-5.8 6,-5.7 5.2,-5.9 M-4,-6.3 V7.9 C-3.4,10.4 -1.6,11.6 0.4,12 L2.9,12.1 M-7.1,-9 L-4,-6.3 M-7.1,10.2 L-4,7.9" fill="none" stroke="#0c2348" stroke-width="1.2" stroke-linecap="round"/>
<circle cx="2317.9" cy="61" r="16.5" fill="#fff" stroke="#0c2348" stroke-width="2.7"/>
<text transform="translate(2317.9,61) rotate(90)" x="0" y="9.26" font-size="24.0" text-anchor="middle" fill="#0c2348" stroke="#0c2348" stroke-width="0.45">T</text>
<circle cx="2356.5" cy="102.7" r="16.5" fill="#fff" stroke="#0c2348" stroke-width="2.7"/>
<text transform="translate(2356.5,102.7) rotate(90)" x="0" y="9.26" font-size="24.0" text-anchor="middle" fill="#0c2348" stroke="#0c2348" stroke-width="0.45">T</text>
<circle cx="2396" cy="102.7" r="16.5" fill="#fff" stroke="#0c2348" stroke-width="2.7"/>
<text transform="translate(2396,102.7) rotate(90)" x="0" y="9.26" font-size="24.0" text-anchor="middle" fill="#0c2348" stroke="#0c2348" stroke-width="0.45">T</text>
<circle cx="2434.6" cy="102.7" r="16.5" fill="#fff" stroke="#0c2348" stroke-width="2.7"/>
<text transform="translate(2434.6,102.7) rotate(90)" x="0" y="9.26" font-size="24.0" text-anchor="middle" fill="#0c2348" stroke="#0c2348" stroke-width="0.45">T</text>
<circle cx="2473.7" cy="102.7" r="16.5" fill="#fff" stroke="#0c2348" stroke-width="2.7"/>
<text transform="translate(2473.7,102.7) rotate(90)" x="0" y="9.26" font-size="24.0" text-anchor="middle" fill="#0c2348" stroke="#0c2348" stroke-width="0.45">T</text>
<circle cx="2513.6" cy="102.7" r="16.5" fill="#fff" stroke="#0c2348" stroke-width="2.7"/>
<text transform="translate(2513.6,102.7) rotate(90)" x="0" y="9.26" font-size="24.0" text-anchor="middle" fill="#0c2348" stroke="#0c2348" stroke-width="0.45">T</text>
<circle cx="2552.3" cy="102.7" r="16.5" fill="#fff" stroke="#0c2348" stroke-width="2.7"/>
<text transform="translate(2552.3,102.7) rotate(90)" x="0" y="9.26" font-size="24.0" text-anchor="middle" fill="#0c2348" stroke="#0c2348" stroke-width="0.45">T</text>
<circle cx="2593.4" cy="102.7" r="16.5" fill="#fff" stroke="#0c2348" stroke-width="2.7"/>
<path transform="translate(2593.4,102.7)" d="M2.9,-10.1 V12.1 M-4,-6.3 C-4,-8.5 -2.6,-9.8 -0.9,-9.8 L2.9,-10.1 H6.4 C8.2,-10 8.6,-8 7.6,-6.6 C7,-5.8 6,-5.7 5.2,-5.9 M-4,-6.3 V7.9 C-3.4,10.4 -1.6,11.6 0.4,12 L2.9,12.1 M-7.1,-9 L-4,-6.3 M-7.1,10.2 L-4,7.9" fill="none" stroke="#0c2348" stroke-width="1.2" stroke-linecap="round"/>
<circle cx="2593.4" cy="61" r="16.5" fill="#fff" stroke="#0c2348" stroke-width="2.7"/>
<text transform="translate(2593.4,61) rotate(90)" x="0" y="9.26" font-size="24.0" text-anchor="middle" fill="#0c2348" stroke="#0c2348" stroke-width="0.45">T</text>
<circle cx="2631.6" cy="102.7" r="16.5" fill="#fff" stroke="#0c2348" stroke-width="2.7"/>
<text transform="translate(2631.6,102.7) rotate(90)" x="0" y="9.26" font-size="24.0" text-anchor="middle" fill="#0c2348" stroke="#0c2348" stroke-width="0.45">T</text>
<circle cx="2671.5" cy="102.7" r="16.5" fill="#fff" stroke="#0c2348" stroke-width="2.7"/>
<text transform="translate(2671.5,102.7) rotate(90)" x="0" y="9.26" font-size="24.0" text-anchor="middle" fill="#0c2348" stroke="#0c2348" stroke-width="0.45">T</text>
<circle cx="2710.7" cy="102.7" r="16.5" fill="#fff" stroke="#0c2348" stroke-width="2.7"/>
<text transform="translate(2710.7,102.7) rotate(90)" x="0" y="9.26" font-size="24.0" text-anchor="middle" fill="#0c2348" stroke="#0c2348" stroke-width="0.45">T</text>
<circle cx="2759.9" cy="102.7" r="16.5" fill="#fff" stroke="#0c2348" stroke-width="2.7"/>
<path transform="translate(2759.9,102.7)" d="M-1.85,-11.65 Q-7.46,-6.96 -4.35,-1.5 M9.17,-7.43 Q2.29,-9.94 -0.88,-4.52 M11.02,4.23 Q9.75,-2.98 3.47,-3.02 M1.85,11.65 Q7.46,6.96 4.35,1.5 M-9.17,7.43 Q-2.29,9.94 0.88,4.52 M-11.02,-4.23 Q-9.75,2.98 -3.47,3.02" fill="none" stroke="#0c2348" stroke-width="1.5" stroke-linecap="round"/>
<circle cx="2759.9" cy="61" r="16.5" fill="#fff" stroke="#0c2348" stroke-width="2.7"/>
<path transform="translate(2759.9,61)" d="M2.9,-10.1 V12.1 M-4,-6.3 C-4,-8.5 -2.6,-9.8 -0.9,-9.8 L2.9,-10.1 H6.4 C8.2,-10 8.6,-8 7.6,-6.6 C7,-5.8 6,-5.7 5.2,-5.9 M-4,-6.3 V7.9 C-3.4,10.4 -1.6,11.6 0.4,12 L2.9,12.1 M-7.1,-9 L-4,-6.3 M-7.1,10.2 L-4,7.9" fill="none" stroke="#0c2348" stroke-width="1.2" stroke-linecap="round"/>
<circle cx="259.5" cy="542.7" r="16.5" fill="#fff" stroke="#0c2348" stroke-width="2.7"/>
<text transform="translate(259.5,542.7) rotate(90)" x="0" y="9.26" font-size="24.0" text-anchor="middle" fill="#0c2348" stroke="#0c2348" stroke-width="0.45">T</text>
<circle cx="304.8" cy="542.7" r="16.5" fill="#fff" stroke="#0c2348" stroke-width="2.7"/>
<text transform="translate(304.8,542.7) rotate(90)" x="0" y="9.26" font-size="24.0" text-anchor="middle" fill="#0c2348" stroke="#0c2348" stroke-width="0.45">T</text>
<circle cx="344.8" cy="542.7" r="16.5" fill="#fff" stroke="#0c2348" stroke-width="2.7"/>
<path transform="translate(344.8,542.7)" d="M2.9,-10.1 V12.1 M-4,-6.3 C-4,-8.5 -2.6,-9.8 -0.9,-9.8 L2.9,-10.1 H6.4 C8.2,-10 8.6,-8 7.6,-6.6 C7,-5.8 6,-5.7 5.2,-5.9 M-4,-6.3 V7.9 C-3.4,10.4 -1.6,11.6 0.4,12 L2.9,12.1 M-7.1,-9 L-4,-6.3 M-7.1,10.2 L-4,7.9" fill="none" stroke="#0c2348" stroke-width="1.2" stroke-linecap="round"/>
<circle cx="344.8" cy="584.4" r="16.5" fill="#fff" stroke="#0c2348" stroke-width="2.7"/>
<text transform="translate(344.8,584.4) rotate(90)" x="0" y="9.26" font-size="24.0" text-anchor="middle" fill="#0c2348" stroke="#0c2348" stroke-width="0.45">T</text>
<circle cx="404.3" cy="542.7" r="16.5" fill="#fff" stroke="#0c2348" stroke-width="2.7"/>
<text transform="translate(404.3,542.7) rotate(90)" x="0" y="9.26" font-size="24.0" text-anchor="middle" fill="#0c2348" stroke="#0c2348" stroke-width="0.45">T</text>
<circle cx="404.3" cy="584.4" r="16.5" fill="#fff" stroke="#0c2348" stroke-width="2.7"/>
<text transform="translate(404.3,584.4) rotate(90)" x="0" y="8.66" font-size="24.0" text-anchor="middle" fill="#0c2348" stroke="#0c2348" stroke-width="0.45">D</text>
<circle cx="481.4" cy="542.7" r="16.5" fill="#fff" stroke="#0c2348" stroke-width="2.7"/>
<text transform="translate(481.4,542.7) rotate(90)" x="0" y="9.26" font-size="24.0" text-anchor="middle" fill="#0c2348" stroke="#0c2348" stroke-width="0.45">T</text>
<circle cx="481.4" cy="584.4" r="16.5" fill="#fff" stroke="#0c2348" stroke-width="2.7"/>
<text transform="translate(481.4,584.4) rotate(90)" x="0" y="8.66" font-size="24.0" text-anchor="middle" fill="#0c2348" stroke="#0c2348" stroke-width="0.45">D</text>
<circle cx="542.1" cy="542.7" r="16.5" fill="#fff" stroke="#0c2348" stroke-width="2.7"/>
<text transform="translate(542.1,542.7) rotate(90)" x="0" y="9.26" font-size="24.0" text-anchor="middle" fill="#0c2348" stroke="#0c2348" stroke-width="0.45">T</text>
<circle cx="542.1" cy="584.4" r="16.5" fill="#fff" stroke="#0c2348" stroke-width="2.7"/>
<text transform="translate(542.1,584.4) rotate(90)" x="0" y="8.06" font-size="24.0" text-anchor="middle" fill="#0c2348" stroke="#0c2348" stroke-width="0.45">S</text>
<circle cx="580.5" cy="542.7" r="16.5" fill="#fff" stroke="#0c2348" stroke-width="2.7"/>
<text transform="translate(580.5,542.7) rotate(90)" x="0" y="9.26" font-size="24.0" text-anchor="middle" fill="#0c2348" stroke="#0c2348" stroke-width="0.45">T</text>
<circle cx="580.5" cy="584.4" r="16.5" fill="#fff" stroke="#0c2348" stroke-width="2.7"/>
<text transform="translate(580.5,584.4) rotate(90)" x="0" y="8.06" font-size="24.0" text-anchor="middle" fill="#0c2348" stroke="#0c2348" stroke-width="0.45">S</text>
<circle cx="621.4" cy="542.7" r="16.5" fill="#fff" stroke="#0c2348" stroke-width="2.7"/>
<text transform="translate(621.4,542.7) rotate(90)" x="0" y="9.26" font-size="24.0" text-anchor="middle" fill="#0c2348" stroke="#0c2348" stroke-width="0.45">T</text>
<circle cx="660" cy="542.7" r="16.5" fill="#fff" stroke="#0c2348" stroke-width="2.7"/>
<text transform="translate(660,542.7) rotate(90)" x="0" y="9.26" font-size="24.0" text-anchor="middle" fill="#0c2348" stroke="#0c2348" stroke-width="0.45">T</text>
<circle cx="700.5" cy="542.7" r="16.5" fill="#fff" stroke="#0c2348" stroke-width="2.7"/>
<path transform="translate(700.5,542.7)" d="M2.9,-10.1 V12.1 M-4,-6.3 C-4,-8.5 -2.6,-9.8 -0.9,-9.8 L2.9,-10.1 H6.4 C8.2,-10 8.6,-8 7.6,-6.6 C7,-5.8 6,-5.7 5.2,-5.9 M-4,-6.3 V7.9 C-3.4,10.4 -1.6,11.6 0.4,12 L2.9,12.1 M-7.1,-9 L-4,-6.3 M-7.1,10.2 L-4,7.9" fill="none" stroke="#0c2348" stroke-width="1.2" stroke-linecap="round"/>
<circle cx="700.5" cy="584.4" r="16.5" fill="#fff" stroke="#0c2348" stroke-width="2.7"/>
<text transform="translate(700.5,584.4) rotate(90)" x="0" y="9.26" font-size="24.0" text-anchor="middle" fill="#0c2348" stroke="#0c2348" stroke-width="0.45">T</text>
<circle cx="741.2" cy="542.7" r="16.5" fill="#fff" stroke="#0c2348" stroke-width="2.7"/>
<text transform="translate(741.2,542.7) rotate(90)" x="0" y="9.26" font-size="24.0" text-anchor="middle" fill="#0c2348" stroke="#0c2348" stroke-width="0.45">T</text>
<circle cx="780.2" cy="542.7" r="16.5" fill="#fff" stroke="#0c2348" stroke-width="2.7"/>
<text transform="translate(780.2,542.7) rotate(90)" x="0" y="9.26" font-size="24.0" text-anchor="middle" fill="#0c2348" stroke="#0c2348" stroke-width="0.45">T</text>
<circle cx="820" cy="542.7" r="16.5" fill="#fff" stroke="#0c2348" stroke-width="2.7"/>
<path transform="translate(820,542.7)" d="M2.9,-10.1 V12.1 M-4,-6.3 C-4,-8.5 -2.6,-9.8 -0.9,-9.8 L2.9,-10.1 H6.4 C8.2,-10 8.6,-8 7.6,-6.6 C7,-5.8 6,-5.7 5.2,-5.9 M-4,-6.3 V7.9 C-3.4,10.4 -1.6,11.6 0.4,12 L2.9,12.1 M-7.1,-9 L-4,-6.3 M-7.1,10.2 L-4,7.9" fill="none" stroke="#0c2348" stroke-width="1.2" stroke-linecap="round"/>
<circle cx="820" cy="584.4" r="16.5" fill="#fff" stroke="#0c2348" stroke-width="2.7"/>
<text transform="translate(820,584.4) rotate(90)" x="0" y="9.26" font-size="24.0" text-anchor="middle" fill="#0c2348" stroke="#0c2348" stroke-width="0.45">T</text>
<circle cx="820" cy="626.1" r="16.5" fill="#fff" stroke="#0c2348" stroke-width="2.7"/>
<text transform="translate(820,626.1) rotate(90)" x="0" y="8.06" font-size="24.0" text-anchor="middle" fill="#0c2348" stroke="#0c2348" stroke-width="0.45">S</text>
<circle cx="858.8" cy="542.7" r="16.5" fill="#fff" stroke="#0c2348" stroke-width="2.7"/>
<text transform="translate(858.8,542.7) rotate(90)" x="0" y="9.26" font-size="24.0" text-anchor="middle" fill="#0c2348" stroke="#0c2348" stroke-width="0.45">T</text>
<circle cx="897.4" cy="542.7" r="16.5" fill="#fff" stroke="#0c2348" stroke-width="2.7"/>
<text transform="translate(897.4,542.7) rotate(90)" x="0" y="9.26" font-size="24.0" text-anchor="middle" fill="#0c2348" stroke="#0c2348" stroke-width="0.45">T</text>
<circle cx="935.7" cy="542.7" r="16.5" fill="#fff" stroke="#0c2348" stroke-width="2.7"/>
<text transform="translate(935.7,542.7) rotate(90)" x="0" y="9.26" font-size="24.0" text-anchor="middle" fill="#0c2348" stroke="#0c2348" stroke-width="0.45">T</text>
<circle cx="975.5" cy="542.7" r="16.5" fill="#fff" stroke="#0c2348" stroke-width="2.7"/>
<path transform="translate(975.5,542.7)" d="M2.9,-10.1 V12.1 M-4,-6.3 C-4,-8.5 -2.6,-9.8 -0.9,-9.8 L2.9,-10.1 H6.4 C8.2,-10 8.6,-8 7.6,-6.6 C7,-5.8 6,-5.7 5.2,-5.9 M-4,-6.3 V7.9 C-3.4,10.4 -1.6,11.6 0.4,12 L2.9,12.1 M-7.1,-9 L-4,-6.3 M-7.1,10.2 L-4,7.9" fill="none" stroke="#0c2348" stroke-width="1.2" stroke-linecap="round"/>
<circle cx="975.5" cy="584.4" r="16.5" fill="#fff" stroke="#0c2348" stroke-width="2.7"/>
<text transform="translate(975.5,584.4) rotate(90)" x="0" y="9.26" font-size="24.0" text-anchor="middle" fill="#0c2348" stroke="#0c2348" stroke-width="0.45">T</text>
<circle cx="1027.4" cy="542.7" r="16.5" fill="#fff" stroke="#0c2348" stroke-width="2.7"/>
<text transform="translate(1027.4,542.7) rotate(90)" x="0" y="9.26" font-size="24.0" text-anchor="middle" fill="#0c2348" stroke="#0c2348" stroke-width="0.45">T</text>
<circle cx="1082.1" cy="542.7" r="16.5" fill="#fff" stroke="#0c2348" stroke-width="2.7"/>
<path transform="translate(1082.1,542.7)" d="M2.9,-10.1 V12.1 M-4,-6.3 C-4,-8.5 -2.6,-9.8 -0.9,-9.8 L2.9,-10.1 H6.4 C8.2,-10 8.6,-8 7.6,-6.6 C7,-5.8 6,-5.7 5.2,-5.9 M-4,-6.3 V7.9 C-3.4,10.4 -1.6,11.6 0.4,12 L2.9,12.1 M-7.1,-9 L-4,-6.3 M-7.1,10.2 L-4,7.9" fill="none" stroke="#0c2348" stroke-width="1.2" stroke-linecap="round"/>
<circle cx="1082.1" cy="584.4" r="16.5" fill="#fff" stroke="#0c2348" stroke-width="2.7"/>
<text transform="translate(1082.1,584.4) rotate(90)" x="0" y="9.26" font-size="24.0" text-anchor="middle" fill="#0c2348" stroke="#0c2348" stroke-width="0.45">T</text>
<circle cx="1082.1" cy="626.1" r="16.5" fill="#fff" stroke="#0c2348" stroke-width="2.7"/>
<text transform="translate(1082.1,626.1) rotate(90)" x="0" y="8.06" font-size="24.0" text-anchor="middle" fill="#0c2348" stroke="#0c2348" stroke-width="0.45">S</text>
<circle cx="1142.1" cy="542.7" r="16.5" fill="#fff" stroke="#0c2348" stroke-width="2.7"/>
<text transform="translate(1142.1,542.7) rotate(90)" x="0" y="9.26" font-size="24.0" text-anchor="middle" fill="#0c2348" stroke="#0c2348" stroke-width="0.45">T</text>
<circle cx="1142.1" cy="584.4" r="16.5" fill="#fff" stroke="#0c2348" stroke-width="2.7"/>
<text transform="translate(1142.1,584.4) rotate(90)" x="0" y="8.06" font-size="24.0" text-anchor="middle" fill="#0c2348" stroke="#0c2348" stroke-width="0.45">S</text>
<circle cx="1202.4" cy="542.7" r="16.5" fill="#fff" stroke="#0c2348" stroke-width="2.7"/>
<path transform="translate(1202.4,542.7)" d="M2.9,-10.1 V12.1 M-4,-6.3 C-4,-8.5 -2.6,-9.8 -0.9,-9.8 L2.9,-10.1 H6.4 C8.2,-10 8.6,-8 7.6,-6.6 C7,-5.8 6,-5.7 5.2,-5.9 M-4,-6.3 V7.9 C-3.4,10.4 -1.6,11.6 0.4,12 L2.9,12.1 M-7.1,-9 L-4,-6.3 M-7.1,10.2 L-4,7.9" fill="none" stroke="#0c2348" stroke-width="1.2" stroke-linecap="round"/>
<circle cx="1202.4" cy="584.4" r="16.5" fill="#fff" stroke="#0c2348" stroke-width="2.7"/>
<text transform="translate(1202.4,584.4) rotate(90)" x="0" y="9.26" font-size="24.0" text-anchor="middle" fill="#0c2348" stroke="#0c2348" stroke-width="0.45">T</text>
<circle cx="1202.4" cy="626.1" r="16.5" fill="#fff" stroke="#0c2348" stroke-width="2.7"/>
<text transform="translate(1202.4,626.1) rotate(90)" x="0" y="8.06" font-size="24.0" text-anchor="middle" fill="#0c2348" stroke="#0c2348" stroke-width="0.45">S</text>
<circle cx="1254" cy="542.7" r="16.5" fill="#fff" stroke="#0c2348" stroke-width="2.7"/>
<text transform="translate(1254,542.7) rotate(90)" x="0" y="9.26" font-size="24.0" text-anchor="middle" fill="#0c2348" stroke="#0c2348" stroke-width="0.45">T</text>
<circle cx="1296.4" cy="542.7" r="16.5" fill="#fff" stroke="#0c2348" stroke-width="2.7"/>
<text transform="translate(1296.4,542.7) rotate(90)" x="0" y="9.26" font-size="24.0" text-anchor="middle" fill="#0c2348" stroke="#0c2348" stroke-width="0.45">T</text>
<circle cx="1342.6" cy="542.7" r="16.5" fill="#fff" stroke="#0c2348" stroke-width="2.7"/>
<path transform="translate(1342.6,542.7)" d="M2.9,-10.1 V12.1 M-4,-6.3 C-4,-8.5 -2.6,-9.8 -0.9,-9.8 L2.9,-10.1 H6.4 C8.2,-10 8.6,-8 7.6,-6.6 C7,-5.8 6,-5.7 5.2,-5.9 M-4,-6.3 V7.9 C-3.4,10.4 -1.6,11.6 0.4,12 L2.9,12.1 M-7.1,-9 L-4,-6.3 M-7.1,10.2 L-4,7.9" fill="none" stroke="#0c2348" stroke-width="1.2" stroke-linecap="round"/>
<circle cx="1342.6" cy="584.4" r="16.5" fill="#fff" stroke="#0c2348" stroke-width="2.7"/>
<text transform="translate(1342.6,584.4) rotate(90)" x="0" y="9.26" font-size="24.0" text-anchor="middle" fill="#0c2348" stroke="#0c2348" stroke-width="0.45">T</text>
<circle cx="1342.6" cy="626.1" r="16.5" fill="#fff" stroke="#0c2348" stroke-width="2.7"/>
<text transform="translate(1342.6,626.1) rotate(90)" x="0" y="8.06" font-size="24.0" text-anchor="middle" fill="#0c2348" stroke="#0c2348" stroke-width="0.45">S</text>
<circle cx="1404.5" cy="542.7" r="16.5" fill="#fff" stroke="#0c2348" stroke-width="2.7"/>
<text transform="translate(1404.5,542.7) rotate(90)" x="0" y="9.26" font-size="24.0" text-anchor="middle" fill="#0c2348" stroke="#0c2348" stroke-width="0.45">T</text>
<circle cx="1460.5" cy="542.7" r="16.5" fill="#fff" stroke="#0c2348" stroke-width="2.7"/>
<path transform="translate(1460.5,542.7)" d="M2.9,-10.1 V12.1 M-4,-6.3 C-4,-8.5 -2.6,-9.8 -0.9,-9.8 L2.9,-10.1 H6.4 C8.2,-10 8.6,-8 7.6,-6.6 C7,-5.8 6,-5.7 5.2,-5.9 M-4,-6.3 V7.9 C-3.4,10.4 -1.6,11.6 0.4,12 L2.9,12.1 M-7.1,-9 L-4,-6.3 M-7.1,10.2 L-4,7.9" fill="none" stroke="#0c2348" stroke-width="1.2" stroke-linecap="round"/>
<circle cx="1460.5" cy="584.4" r="16.5" fill="#fff" stroke="#0c2348" stroke-width="2.7"/>
<text transform="translate(1460.5,584.4) rotate(90)" x="0" y="9.26" font-size="24.0" text-anchor="middle" fill="#0c2348" stroke="#0c2348" stroke-width="0.45">T</text>
<circle cx="1460.5" cy="626.1" r="16.5" fill="#fff" stroke="#0c2348" stroke-width="2.7"/>
<text transform="translate(1460.5,626.1) rotate(90)" x="0" y="8.06" font-size="24.0" text-anchor="middle" fill="#0c2348" stroke="#0c2348" stroke-width="0.45">S</text>
<circle cx="1520.7" cy="542.7" r="16.5" fill="#fff" stroke="#0c2348" stroke-width="2.7"/>
<text transform="translate(1520.7,542.7) rotate(90)" x="0" y="9.26" font-size="24.0" text-anchor="middle" fill="#0c2348" stroke="#0c2348" stroke-width="0.45">T</text>
<circle cx="1520.7" cy="584.4" r="16.5" fill="#fff" stroke="#0c2348" stroke-width="2.7"/>
<text transform="translate(1520.7,584.4) rotate(90)" x="0" y="8.06" font-size="24.0" text-anchor="middle" fill="#0c2348" stroke="#0c2348" stroke-width="0.45">S</text>
<circle cx="1570" cy="542.7" r="16.5" fill="#fff" stroke="#0c2348" stroke-width="2.7"/>
<path transform="translate(1570,542.7)" d="M2.9,-10.1 V12.1 M-4,-6.3 C-4,-8.5 -2.6,-9.8 -0.9,-9.8 L2.9,-10.1 H6.4 C8.2,-10 8.6,-8 7.6,-6.6 C7,-5.8 6,-5.7 5.2,-5.9 M-4,-6.3 V7.9 C-3.4,10.4 -1.6,11.6 0.4,12 L2.9,12.1 M-7.1,-9 L-4,-6.3 M-7.1,10.2 L-4,7.9" fill="none" stroke="#0c2348" stroke-width="1.2" stroke-linecap="round"/>
<circle cx="1570" cy="584.4" r="16.5" fill="#fff" stroke="#0c2348" stroke-width="2.7"/>
<text transform="translate(1570,584.4) rotate(90)" x="0" y="9.26" font-size="24.0" text-anchor="middle" fill="#0c2348" stroke="#0c2348" stroke-width="0.45">T</text>
<circle cx="1609.3" cy="542.7" r="16.5" fill="#fff" stroke="#0c2348" stroke-width="2.7"/>
<text transform="translate(1609.3,542.7) rotate(90)" x="0" y="9.26" font-size="24.0" text-anchor="middle" fill="#0c2348" stroke="#0c2348" stroke-width="0.45">T</text>
<circle cx="1648.6" cy="542.7" r="16.5" fill="#fff" stroke="#0c2348" stroke-width="2.7"/>
<text transform="translate(1648.6,542.7) rotate(90)" x="0" y="9.26" font-size="24.0" text-anchor="middle" fill="#0c2348" stroke="#0c2348" stroke-width="0.45">T</text>
<circle cx="1687.9" cy="542.7" r="16.5" fill="#fff" stroke="#0c2348" stroke-width="2.7"/>
<text transform="translate(1687.9,542.7) rotate(90)" x="0" y="9.26" font-size="24.0" text-anchor="middle" fill="#0c2348" stroke="#0c2348" stroke-width="0.45">T</text>
<circle cx="1727.1" cy="542.7" r="16.5" fill="#fff" stroke="#0c2348" stroke-width="2.7"/>
<text transform="translate(1727.1,542.7) rotate(90)" x="0" y="9.26" font-size="24.0" text-anchor="middle" fill="#0c2348" stroke="#0c2348" stroke-width="0.45">T</text>
<circle cx="1766.4" cy="542.7" r="16.5" fill="#fff" stroke="#0c2348" stroke-width="2.7"/>
<path transform="translate(1766.4,542.7)" d="M2.9,-10.1 V12.1 M-4,-6.3 C-4,-8.5 -2.6,-9.8 -0.9,-9.8 L2.9,-10.1 H6.4 C8.2,-10 8.6,-8 7.6,-6.6 C7,-5.8 6,-5.7 5.2,-5.9 M-4,-6.3 V7.9 C-3.4,10.4 -1.6,11.6 0.4,12 L2.9,12.1 M-7.1,-9 L-4,-6.3 M-7.1,10.2 L-4,7.9" fill="none" stroke="#0c2348" stroke-width="1.2" stroke-linecap="round"/>
<circle cx="1766.4" cy="584.4" r="16.5" fill="#fff" stroke="#0c2348" stroke-width="2.7"/>
<text transform="translate(1766.4,584.4) rotate(90)" x="0" y="9.26" font-size="24.0" text-anchor="middle" fill="#0c2348" stroke="#0c2348" stroke-width="0.45">T</text>
<circle cx="1805.2" cy="542.7" r="16.5" fill="#fff" stroke="#0c2348" stroke-width="2.7"/>
<text transform="translate(1805.2,542.7) rotate(90)" x="0" y="9.26" font-size="24.0" text-anchor="middle" fill="#0c2348" stroke="#0c2348" stroke-width="0.45">T</text>
<circle cx="1843.8" cy="542.7" r="16.5" fill="#fff" stroke="#0c2348" stroke-width="2.7"/>
<text transform="translate(1843.8,542.7) rotate(90)" x="0" y="9.26" font-size="24.0" text-anchor="middle" fill="#0c2348" stroke="#0c2348" stroke-width="0.45">T</text>
<circle cx="1884.3" cy="542.7" r="16.5" fill="#fff" stroke="#0c2348" stroke-width="2.7"/>
<text transform="translate(1884.3,542.7) rotate(90)" x="0" y="9.26" font-size="24.0" text-anchor="middle" fill="#0c2348" stroke="#0c2348" stroke-width="0.45">T</text>
<circle cx="1922.9" cy="542.7" r="16.5" fill="#fff" stroke="#0c2348" stroke-width="2.7"/>
<text transform="translate(1922.9,542.7) rotate(90)" x="0" y="9.26" font-size="24.0" text-anchor="middle" fill="#0c2348" stroke="#0c2348" stroke-width="0.45">T</text>
<circle cx="1984.8" cy="542.7" r="16.5" fill="#fff" stroke="#0c2348" stroke-width="2.7"/>
<path transform="translate(1984.8,542.7)" d="M2.9,-10.1 V12.1 M-4,-6.3 C-4,-8.5 -2.6,-9.8 -0.9,-9.8 L2.9,-10.1 H6.4 C8.2,-10 8.6,-8 7.6,-6.6 C7,-5.8 6,-5.7 5.2,-5.9 M-4,-6.3 V7.9 C-3.4,10.4 -1.6,11.6 0.4,12 L2.9,12.1 M-7.1,-9 L-4,-6.3 M-7.1,10.2 L-4,7.9" fill="none" stroke="#0c2348" stroke-width="1.2" stroke-linecap="round"/>
<circle cx="1984.8" cy="584.4" r="16.5" fill="#fff" stroke="#0c2348" stroke-width="2.7"/>
<text transform="translate(1984.8,584.4) rotate(90)" x="0" y="9.26" font-size="24.0" text-anchor="middle" fill="#0c2348" stroke="#0c2348" stroke-width="0.45">T</text>
<circle cx="1984.8" cy="626.1" r="16.5" fill="#fff" stroke="#0c2348" stroke-width="2.7"/>
<text transform="translate(1984.8,626.1) rotate(90)" x="0" y="8.66" font-size="24.0" text-anchor="middle" fill="#0c2348" stroke="#0c2348" stroke-width="0.45">D</text>
<circle cx="2055.7" cy="542.7" r="16.5" fill="#fff" stroke="#0c2348" stroke-width="2.7"/>
<path transform="translate(2055.7,542.7)" d="M-1.85,-11.65 Q-7.46,-6.96 -4.35,-1.5 M9.17,-7.43 Q2.29,-9.94 -0.88,-4.52 M11.02,4.23 Q9.75,-2.98 3.47,-3.02 M1.85,11.65 Q7.46,6.96 4.35,1.5 M-9.17,7.43 Q-2.29,9.94 0.88,4.52 M-11.02,-4.23 Q-9.75,2.98 -3.47,3.02" fill="none" stroke="#0c2348" stroke-width="1.5" stroke-linecap="round"/>
<circle cx="2055.7" cy="584.4" r="16.5" fill="#fff" stroke="#0c2348" stroke-width="2.7"/>
<text transform="translate(2055.7,584.4) rotate(90)" x="0" y="9.26" font-size="24.0" text-anchor="middle" fill="#0c2348" stroke="#0c2348" stroke-width="0.45">T</text>
<circle cx="2055.7" cy="626.1" r="16.5" fill="#fff" stroke="#0c2348" stroke-width="2.7"/>
<text transform="translate(2055.7,626.1) rotate(90)" x="0" y="8.66" font-size="24.0" text-anchor="middle" fill="#0c2348" stroke="#0c2348" stroke-width="0.45">D</text>
<circle cx="2120" cy="559.3" r="16.5" fill="#fff" stroke="#0c2348" stroke-width="2.7"/>
<text transform="translate(2120,559.3) rotate(90)" x="0" y="9.26" font-size="24.0" text-anchor="middle" fill="#0c2348" stroke="#0c2348" stroke-width="0.45">T</text>
<circle cx="2159" cy="559.3" r="16.5" fill="#fff" stroke="#0c2348" stroke-width="2.7"/>
<text transform="translate(2159,559.3) rotate(90)" x="0" y="9.26" font-size="24.0" text-anchor="middle" fill="#0c2348" stroke="#0c2348" stroke-width="0.45">T</text>
<circle cx="2198.6" cy="559.3" r="16.5" fill="#fff" stroke="#0c2348" stroke-width="2.7"/>
<text transform="translate(2198.6,559.3) rotate(90)" x="0" y="9.26" font-size="24.0" text-anchor="middle" fill="#0c2348" stroke="#0c2348" stroke-width="0.45">T</text>
<circle cx="2237.6" cy="559.3" r="16.5" fill="#fff" stroke="#0c2348" stroke-width="2.7"/>
<text transform="translate(2237.6,559.3) rotate(90)" x="0" y="9.26" font-size="24.0" text-anchor="middle" fill="#0c2348" stroke="#0c2348" stroke-width="0.45">T</text>
<circle cx="2276.4" cy="559.3" r="16.5" fill="#fff" stroke="#0c2348" stroke-width="2.7"/>
<text transform="translate(2276.4,559.3) rotate(90)" x="0" y="9.26" font-size="24.0" text-anchor="middle" fill="#0c2348" stroke="#0c2348" stroke-width="0.45">T</text>
<circle cx="2318.1" cy="559.3" r="16.5" fill="#fff" stroke="#0c2348" stroke-width="2.7"/>
<path transform="translate(2318.1,559.3)" d="M2.9,-10.1 V12.1 M-4,-6.3 C-4,-8.5 -2.6,-9.8 -0.9,-9.8 L2.9,-10.1 H6.4 C8.2,-10 8.6,-8 7.6,-6.6 C7,-5.8 6,-5.7 5.2,-5.9 M-4,-6.3 V7.9 C-3.4,10.4 -1.6,11.6 0.4,12 L2.9,12.1 M-7.1,-9 L-4,-6.3 M-7.1,10.2 L-4,7.9" fill="none" stroke="#0c2348" stroke-width="1.2" stroke-linecap="round"/>
<circle cx="2318.1" cy="601" r="16.5" fill="#fff" stroke="#0c2348" stroke-width="2.7"/>
<text transform="translate(2318.1,601) rotate(90)" x="0" y="9.26" font-size="24.0" text-anchor="middle" fill="#0c2348" stroke="#0c2348" stroke-width="0.45">T</text>
<circle cx="2356.2" cy="559.3" r="16.5" fill="#fff" stroke="#0c2348" stroke-width="2.7"/>
<text transform="translate(2356.2,559.3) rotate(90)" x="0" y="9.26" font-size="24.0" text-anchor="middle" fill="#0c2348" stroke="#0c2348" stroke-width="0.45">T</text>
<circle cx="2396.2" cy="559.3" r="16.5" fill="#fff" stroke="#0c2348" stroke-width="2.7"/>
<text transform="translate(2396.2,559.3) rotate(90)" x="0" y="9.26" font-size="24.0" text-anchor="middle" fill="#0c2348" stroke="#0c2348" stroke-width="0.45">T</text>
<circle cx="2434.8" cy="559.3" r="16.5" fill="#fff" stroke="#0c2348" stroke-width="2.7"/>
<text transform="translate(2434.8,559.3) rotate(90)" x="0" y="9.26" font-size="24.0" text-anchor="middle" fill="#0c2348" stroke="#0c2348" stroke-width="0.45">T</text>
<circle cx="2474" cy="559.3" r="16.5" fill="#fff" stroke="#0c2348" stroke-width="2.7"/>
<text transform="translate(2474,559.3) rotate(90)" x="0" y="9.26" font-size="24.0" text-anchor="middle" fill="#0c2348" stroke="#0c2348" stroke-width="0.45">T</text>
<circle cx="2513.8" cy="559.3" r="16.5" fill="#fff" stroke="#0c2348" stroke-width="2.7"/>
<text transform="translate(2513.8,559.3) rotate(90)" x="0" y="9.26" font-size="24.0" text-anchor="middle" fill="#0c2348" stroke="#0c2348" stroke-width="0.45">T</text>
<circle cx="2552.6" cy="559.3" r="16.5" fill="#fff" stroke="#0c2348" stroke-width="2.7"/>
<text transform="translate(2552.6,559.3) rotate(90)" x="0" y="9.26" font-size="24.0" text-anchor="middle" fill="#0c2348" stroke="#0c2348" stroke-width="0.45">T</text>
<circle cx="2593.6" cy="559.3" r="16.5" fill="#fff" stroke="#0c2348" stroke-width="2.7"/>
<path transform="translate(2593.6,559.3)" d="M2.9,-10.1 V12.1 M-4,-6.3 C-4,-8.5 -2.6,-9.8 -0.9,-9.8 L2.9,-10.1 H6.4 C8.2,-10 8.6,-8 7.6,-6.6 C7,-5.8 6,-5.7 5.2,-5.9 M-4,-6.3 V7.9 C-3.4,10.4 -1.6,11.6 0.4,12 L2.9,12.1 M-7.1,-9 L-4,-6.3 M-7.1,10.2 L-4,7.9" fill="none" stroke="#0c2348" stroke-width="1.2" stroke-linecap="round"/>
<circle cx="2593.6" cy="601" r="16.5" fill="#fff" stroke="#0c2348" stroke-width="2.7"/>
<text transform="translate(2593.6,601) rotate(90)" x="0" y="9.26" font-size="24.0" text-anchor="middle" fill="#0c2348" stroke="#0c2348" stroke-width="0.45">T</text>
<circle cx="2632.1" cy="559.3" r="16.5" fill="#fff" stroke="#0c2348" stroke-width="2.7"/>
<text transform="translate(2632.1,559.3) rotate(90)" x="0" y="9.26" font-size="24.0" text-anchor="middle" fill="#0c2348" stroke="#0c2348" stroke-width="0.45">T</text>
<circle cx="2671.7" cy="559.3" r="16.5" fill="#fff" stroke="#0c2348" stroke-width="2.7"/>
<text transform="translate(2671.7,559.3) rotate(90)" x="0" y="9.26" font-size="24.0" text-anchor="middle" fill="#0c2348" stroke="#0c2348" stroke-width="0.45">T</text>
<circle cx="2710.2" cy="559.3" r="16.5" fill="#fff" stroke="#0c2348" stroke-width="2.7"/>
<text transform="translate(2710.2,559.3) rotate(90)" x="0" y="9.26" font-size="24.0" text-anchor="middle" fill="#0c2348" stroke="#0c2348" stroke-width="0.45">T</text>
<circle cx="2759.8" cy="559.3" r="16.5" fill="#fff" stroke="#0c2348" stroke-width="2.7"/>
<path transform="translate(2759.8,559.3)" d="M-1.85,-11.65 Q-7.46,-6.96 -4.35,-1.5 M9.17,-7.43 Q2.29,-9.94 -0.88,-4.52 M11.02,4.23 Q9.75,-2.98 3.47,-3.02 M1.85,11.65 Q7.46,6.96 4.35,1.5 M-9.17,7.43 Q-2.29,9.94 0.88,4.52 M-11.02,-4.23 Q-9.75,2.98 -3.47,3.02" fill="none" stroke="#0c2348" stroke-width="1.5" stroke-linecap="round"/>
<circle cx="2759.8" cy="601" r="16.5" fill="#fff" stroke="#0c2348" stroke-width="2.7"/>
<path transform="translate(2759.8,601)" d="M2.9,-10.1 V12.1 M-4,-6.3 C-4,-8.5 -2.6,-9.8 -0.9,-9.8 L2.9,-10.1 H6.4 C8.2,-10 8.6,-8 7.6,-6.6 C7,-5.8 6,-5.7 5.2,-5.9 M-4,-6.3 V7.9 C-3.4,10.4 -1.6,11.6 0.4,12 L2.9,12.1 M-7.1,-9 L-4,-6.3 M-7.1,10.2 L-4,7.9" fill="none" stroke="#0c2348" stroke-width="1.2" stroke-linecap="round"/>
<circle cx="68.3" cy="289.9" r="16.5" fill="#fff" stroke="#0c2348" stroke-width="2.7"/>
<path transform="translate(68.3,289.9)" d="M-1.85,-11.65 Q-7.46,-6.96 -4.35,-1.5 M9.17,-7.43 Q2.29,-9.94 -0.88,-4.52 M11.02,4.23 Q9.75,-2.98 3.47,-3.02 M1.85,11.65 Q7.46,6.96 4.35,1.5 M-9.17,7.43 Q-2.29,9.94 0.88,4.52 M-11.02,-4.23 Q-9.75,2.98 -3.47,3.02" fill="none" stroke="#0c2348" stroke-width="1.5" stroke-linecap="round"/>
<circle cx="68.3" cy="331.5" r="16.5" fill="#fff" stroke="#0c2348" stroke-width="2.7"/>
<path transform="translate(68.3,331.5)" d="M2.9,-10.1 V12.1 M-4,-6.3 C-4,-8.5 -2.6,-9.8 -0.9,-9.8 L2.9,-10.1 H6.4 C8.2,-10 8.6,-8 7.6,-6.6 C7,-5.8 6,-5.7 5.2,-5.9 M-4,-6.3 V7.9 C-3.4,10.4 -1.6,11.6 0.4,12 L2.9,12.1 M-7.1,-9 L-4,-6.3 M-7.1,10.2 L-4,7.9" fill="none" stroke="#0c2348" stroke-width="1.2" stroke-linecap="round"/>
<circle cx="68.3" cy="373.1" r="16.5" fill="#fff" stroke="#0c2348" stroke-width="2.7"/>
<text transform="translate(68.3,373.1) rotate(90)" x="0" y="9.26" font-size="24.0" text-anchor="middle" fill="#0c2348" stroke="#0c2348" stroke-width="0.45">T</text>
<circle cx="692" cy="331.4" r="16.5" fill="#fff" stroke="#0c2348" stroke-width="2.7"/>
<path transform="translate(692,331.4)" d="M-8.8,8.8 H-2.6 V3.2 H3 V-2.8 H8.3 V-8.8" fill="none" stroke="#0c2348" stroke-width="1.4"/>
<circle cx="781.1" cy="331.4" r="16.2" fill="#fff" stroke="#0c2348" stroke-width="3"/>
<g transform="translate(781.1,331.4)" fill="none" stroke="#0c2348" stroke-width="1.3"><rect x="-10.3" y="-8.5" width="20.6" height="17" rx="3.2"/><path d="M-7.4,0 L0,-5 L7.4,0 L0,5 Z M0,-5 V5"/></g>
<circle cx="2067.9" cy="331.6" r="16.2" fill="#fff" stroke="#0c2348" stroke-width="3"/>
<g transform="translate(2067.9,331.6)" fill="none" stroke="#0c2348" stroke-width="1.3"><rect x="-10.3" y="-8.5" width="20.6" height="17" rx="3.2"/><path d="M-7.4,0 L0,-5 L7.4,0 L0,5 Z M0,-5 V5"/></g>
<circle cx="2169.9" cy="331.6" r="16.5" fill="#fff" stroke="#0c2348" stroke-width="2.7"/>
<path transform="translate(2169.9,331.6)" d="M-8.8,8.8 H-2.6 V3.2 H3 V-2.8 H8.3 V-8.8" fill="none" stroke="#0c2348" stroke-width="1.4"/>
</svg></body></html>
